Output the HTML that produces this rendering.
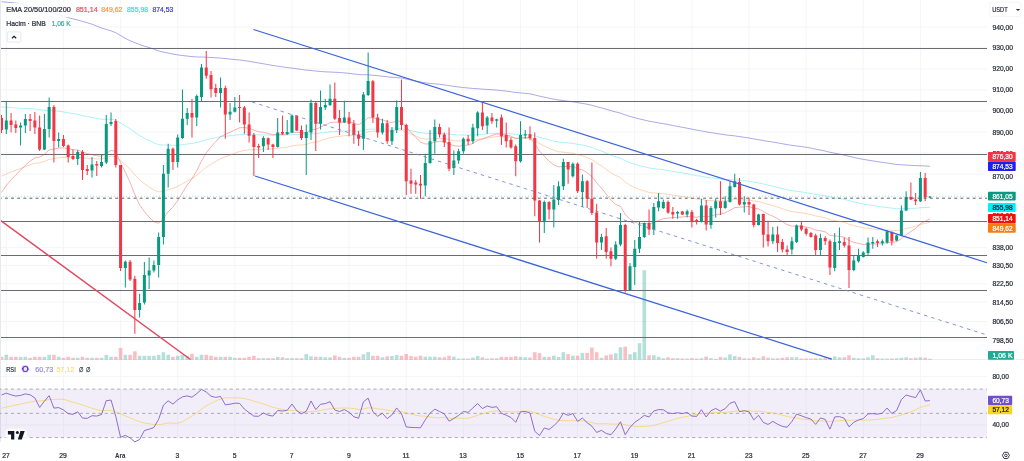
<!DOCTYPE html>
<html><head><meta charset="utf-8"><style>
html,body{margin:0;padding:0;background:#fff;width:1024px;height:461px;overflow:hidden;}
svg{position:absolute;left:0;top:0;filter:blur(0.3px);}
text{font-family:'Liberation Sans', Arial, sans-serif;}
</style></head><body>
<svg width="1024" height="461" viewBox="0 0 1024 461">
<g stroke="#f4f5f7" stroke-width="1">
<line x1="6.3" y1="0" x2="6.3" y2="441"/>
<line x1="63.4" y1="0" x2="63.4" y2="441"/>
<line x1="120.6" y1="0" x2="120.6" y2="441"/>
<line x1="177.7" y1="0" x2="177.7" y2="441"/>
<line x1="234.8" y1="0" x2="234.8" y2="441"/>
<line x1="292.0" y1="0" x2="292.0" y2="441"/>
<line x1="349.1" y1="0" x2="349.1" y2="441"/>
<line x1="406.2" y1="0" x2="406.2" y2="441"/>
<line x1="463.3" y1="0" x2="463.3" y2="441"/>
<line x1="520.5" y1="0" x2="520.5" y2="441"/>
<line x1="577.6" y1="0" x2="577.6" y2="441"/>
<line x1="634.7" y1="0" x2="634.7" y2="441"/>
<line x1="691.9" y1="0" x2="691.9" y2="441"/>
<line x1="749.0" y1="0" x2="749.0" y2="441"/>
<line x1="806.1" y1="0" x2="806.1" y2="441"/>
<line x1="863.2" y1="0" x2="863.2" y2="441"/>
<line x1="920.4" y1="0" x2="920.4" y2="441"/>
<line x1="0" y1="27" x2="987" y2="27"/>
<line x1="0" y1="48" x2="987" y2="48"/>
<line x1="0" y1="69" x2="987" y2="69"/>
<line x1="0" y1="90" x2="987" y2="90"/>
<line x1="0" y1="111" x2="987" y2="111"/>
<line x1="0" y1="132" x2="987" y2="132"/>
<line x1="0" y1="153" x2="987" y2="153"/>
<line x1="0" y1="174" x2="987" y2="174"/>
<line x1="0" y1="247.5" x2="987" y2="247.5"/>
<line x1="0" y1="265.5" x2="987" y2="265.5"/>
<line x1="0" y1="283.75" x2="987" y2="283.75"/>
<line x1="0" y1="302" x2="987" y2="302"/>
<line x1="0" y1="321.5" x2="987" y2="321.5"/>
<line x1="0" y1="340" x2="987" y2="340"/>
<line x1="0" y1="376.5" x2="987" y2="376.5"/>
<line x1="0" y1="425" x2="987" y2="425"/>
</g>
<line x1="0" y1="359.5" x2="1024" y2="359.5" stroke="#eceef2" stroke-width="1"/>
<g>
<rect x="-0.26" y="356.80" width="3.6" height="3.00" fill="rgba(242,54,69,0.32)"/>
<rect x="4.50" y="354.80" width="3.6" height="5.00" fill="rgba(8,153,129,0.3)"/>
<rect x="9.26" y="356.80" width="3.6" height="3.00" fill="rgba(242,54,69,0.32)"/>
<rect x="14.02" y="356.80" width="3.6" height="3.00" fill="rgba(242,54,69,0.32)"/>
<rect x="18.78" y="356.80" width="3.6" height="3.00" fill="rgba(8,153,129,0.3)"/>
<rect x="23.54" y="356.80" width="3.6" height="3.00" fill="rgba(8,153,129,0.3)"/>
<rect x="28.31" y="357.80" width="3.6" height="2.00" fill="rgba(242,54,69,0.32)"/>
<rect x="33.07" y="356.80" width="3.6" height="3.00" fill="rgba(242,54,69,0.32)"/>
<rect x="37.83" y="356.80" width="3.6" height="3.00" fill="rgba(242,54,69,0.32)"/>
<rect x="42.59" y="356.80" width="3.6" height="3.00" fill="rgba(8,153,129,0.3)"/>
<rect x="47.35" y="354.80" width="3.6" height="5.00" fill="rgba(8,153,129,0.3)"/>
<rect x="52.11" y="354.80" width="3.6" height="5.00" fill="rgba(242,54,69,0.32)"/>
<rect x="56.87" y="356.80" width="3.6" height="3.00" fill="rgba(8,153,129,0.3)"/>
<rect x="61.63" y="357.80" width="3.6" height="2.00" fill="rgba(242,54,69,0.32)"/>
<rect x="66.39" y="356.80" width="3.6" height="3.00" fill="rgba(242,54,69,0.32)"/>
<rect x="71.16" y="357.80" width="3.6" height="2.00" fill="rgba(242,54,69,0.32)"/>
<rect x="75.92" y="357.80" width="3.6" height="2.00" fill="rgba(8,153,129,0.3)"/>
<rect x="80.68" y="356.80" width="3.6" height="3.00" fill="rgba(242,54,69,0.32)"/>
<rect x="85.44" y="357.80" width="3.6" height="2.00" fill="rgba(242,54,69,0.32)"/>
<rect x="90.20" y="357.80" width="3.6" height="2.00" fill="rgba(8,153,129,0.3)"/>
<rect x="94.96" y="357.80" width="3.6" height="2.00" fill="rgba(242,54,69,0.32)"/>
<rect x="99.72" y="357.80" width="3.6" height="2.00" fill="rgba(8,153,129,0.3)"/>
<rect x="104.48" y="354.80" width="3.6" height="5.00" fill="rgba(8,153,129,0.3)"/>
<rect x="109.24" y="356.80" width="3.6" height="3.00" fill="rgba(8,153,129,0.3)"/>
<rect x="114.00" y="356.80" width="3.6" height="3.00" fill="rgba(242,54,69,0.32)"/>
<rect x="118.77" y="347.80" width="3.6" height="12.00" fill="rgba(242,54,69,0.32)"/>
<rect x="123.53" y="354.80" width="3.6" height="5.00" fill="rgba(8,153,129,0.3)"/>
<rect x="128.29" y="354.80" width="3.6" height="5.00" fill="rgba(242,54,69,0.32)"/>
<rect x="133.05" y="351.30" width="3.6" height="8.50" fill="rgba(242,54,69,0.32)"/>
<rect x="137.81" y="355.80" width="3.6" height="4.00" fill="rgba(8,153,129,0.3)"/>
<rect x="142.57" y="355.80" width="3.6" height="4.00" fill="rgba(8,153,129,0.3)"/>
<rect x="147.33" y="355.80" width="3.6" height="4.00" fill="rgba(8,153,129,0.3)"/>
<rect x="152.09" y="355.80" width="3.6" height="4.00" fill="rgba(8,153,129,0.3)"/>
<rect x="156.85" y="354.80" width="3.6" height="5.00" fill="rgba(8,153,129,0.3)"/>
<rect x="161.61" y="352.30" width="3.6" height="7.50" fill="rgba(8,153,129,0.3)"/>
<rect x="166.37" y="354.80" width="3.6" height="5.00" fill="rgba(8,153,129,0.3)"/>
<rect x="171.14" y="356.80" width="3.6" height="3.00" fill="rgba(242,54,69,0.32)"/>
<rect x="175.90" y="355.80" width="3.6" height="4.00" fill="rgba(8,153,129,0.3)"/>
<rect x="180.66" y="354.80" width="3.6" height="5.00" fill="rgba(8,153,129,0.3)"/>
<rect x="185.42" y="355.80" width="3.6" height="4.00" fill="rgba(8,153,129,0.3)"/>
<rect x="190.18" y="353.80" width="3.6" height="6.00" fill="rgba(242,54,69,0.32)"/>
<rect x="194.94" y="356.80" width="3.6" height="3.00" fill="rgba(8,153,129,0.3)"/>
<rect x="199.70" y="354.80" width="3.6" height="5.00" fill="rgba(8,153,129,0.3)"/>
<rect x="204.46" y="354.80" width="3.6" height="5.00" fill="rgba(242,54,69,0.32)"/>
<rect x="209.22" y="355.80" width="3.6" height="4.00" fill="rgba(242,54,69,0.32)"/>
<rect x="213.98" y="356.80" width="3.6" height="3.00" fill="rgba(242,54,69,0.32)"/>
<rect x="218.75" y="356.80" width="3.6" height="3.00" fill="rgba(8,153,129,0.3)"/>
<rect x="223.51" y="356.80" width="3.6" height="3.00" fill="rgba(242,54,69,0.32)"/>
<rect x="228.27" y="356.80" width="3.6" height="3.00" fill="rgba(8,153,129,0.3)"/>
<rect x="233.03" y="357.80" width="3.6" height="2.00" fill="rgba(8,153,129,0.3)"/>
<rect x="237.79" y="357.80" width="3.6" height="2.00" fill="rgba(242,54,69,0.32)"/>
<rect x="242.55" y="357.80" width="3.6" height="2.00" fill="rgba(242,54,69,0.32)"/>
<rect x="247.31" y="356.80" width="3.6" height="3.00" fill="rgba(242,54,69,0.32)"/>
<rect x="252.07" y="355.80" width="3.6" height="4.00" fill="rgba(242,54,69,0.32)"/>
<rect x="256.83" y="358.20" width="3.6" height="1.60" fill="rgba(242,54,69,0.32)"/>
<rect x="261.60" y="358.20" width="3.6" height="1.60" fill="rgba(8,153,129,0.3)"/>
<rect x="266.36" y="358.20" width="3.6" height="1.60" fill="rgba(242,54,69,0.32)"/>
<rect x="271.12" y="358.20" width="3.6" height="1.60" fill="rgba(242,54,69,0.32)"/>
<rect x="275.88" y="356.90" width="3.6" height="2.90" fill="rgba(8,153,129,0.3)"/>
<rect x="280.64" y="357.30" width="3.6" height="2.50" fill="rgba(242,54,69,0.32)"/>
<rect x="285.40" y="358.20" width="3.6" height="1.60" fill="rgba(8,153,129,0.3)"/>
<rect x="290.16" y="358.20" width="3.6" height="1.60" fill="rgba(8,153,129,0.3)"/>
<rect x="294.92" y="358.20" width="3.6" height="1.60" fill="rgba(242,54,69,0.32)"/>
<rect x="299.68" y="358.20" width="3.6" height="1.60" fill="rgba(242,54,69,0.32)"/>
<rect x="304.44" y="354.05" width="3.6" height="5.75" fill="rgba(8,153,129,0.3)"/>
<rect x="309.21" y="356.40" width="3.6" height="3.40" fill="rgba(8,153,129,0.3)"/>
<rect x="313.97" y="356.80" width="3.6" height="3.00" fill="rgba(242,54,69,0.32)"/>
<rect x="318.73" y="356.80" width="3.6" height="3.00" fill="rgba(8,153,129,0.3)"/>
<rect x="323.49" y="357.30" width="3.6" height="2.50" fill="rgba(8,153,129,0.3)"/>
<rect x="328.25" y="357.30" width="3.6" height="2.50" fill="rgba(8,153,129,0.3)"/>
<rect x="333.01" y="355.40" width="3.6" height="4.40" fill="rgba(242,54,69,0.32)"/>
<rect x="337.77" y="356.80" width="3.6" height="3.00" fill="rgba(242,54,69,0.32)"/>
<rect x="342.53" y="357.80" width="3.6" height="2.00" fill="rgba(8,153,129,0.3)"/>
<rect x="347.29" y="357.80" width="3.6" height="2.00" fill="rgba(242,54,69,0.32)"/>
<rect x="352.05" y="356.80" width="3.6" height="3.00" fill="rgba(242,54,69,0.32)"/>
<rect x="356.81" y="356.80" width="3.6" height="3.00" fill="rgba(242,54,69,0.32)"/>
<rect x="361.58" y="354.30" width="3.6" height="5.50" fill="rgba(8,153,129,0.3)"/>
<rect x="366.34" y="352.10" width="3.6" height="7.70" fill="rgba(8,153,129,0.3)"/>
<rect x="371.10" y="355.80" width="3.6" height="4.00" fill="rgba(242,54,69,0.32)"/>
<rect x="375.86" y="355.80" width="3.6" height="4.00" fill="rgba(242,54,69,0.32)"/>
<rect x="380.62" y="357.30" width="3.6" height="2.50" fill="rgba(8,153,129,0.3)"/>
<rect x="385.38" y="356.30" width="3.6" height="3.50" fill="rgba(242,54,69,0.32)"/>
<rect x="390.14" y="356.05" width="3.6" height="3.75" fill="rgba(8,153,129,0.3)"/>
<rect x="394.90" y="355.05" width="3.6" height="4.75" fill="rgba(8,153,129,0.3)"/>
<rect x="399.66" y="355.70" width="3.6" height="4.10" fill="rgba(242,54,69,0.32)"/>
<rect x="404.43" y="354.05" width="3.6" height="5.75" fill="rgba(242,54,69,0.32)"/>
<rect x="409.19" y="356.05" width="3.6" height="3.75" fill="rgba(242,54,69,0.32)"/>
<rect x="413.95" y="356.70" width="3.6" height="3.10" fill="rgba(242,54,69,0.32)"/>
<rect x="418.71" y="355.70" width="3.6" height="4.10" fill="rgba(242,54,69,0.32)"/>
<rect x="423.47" y="356.70" width="3.6" height="3.10" fill="rgba(8,153,129,0.3)"/>
<rect x="428.23" y="356.70" width="3.6" height="3.10" fill="rgba(8,153,129,0.3)"/>
<rect x="432.99" y="356.70" width="3.6" height="3.10" fill="rgba(8,153,129,0.3)"/>
<rect x="437.75" y="357.30" width="3.6" height="2.50" fill="rgba(242,54,69,0.32)"/>
<rect x="442.51" y="357.30" width="3.6" height="2.50" fill="rgba(242,54,69,0.32)"/>
<rect x="447.27" y="355.70" width="3.6" height="4.10" fill="rgba(242,54,69,0.32)"/>
<rect x="452.04" y="356.70" width="3.6" height="3.10" fill="rgba(8,153,129,0.3)"/>
<rect x="456.80" y="358.55" width="3.6" height="1.25" fill="rgba(8,153,129,0.3)"/>
<rect x="461.56" y="358.55" width="3.6" height="1.25" fill="rgba(8,153,129,0.3)"/>
<rect x="466.32" y="358.55" width="3.6" height="1.25" fill="rgba(242,54,69,0.32)"/>
<rect x="471.08" y="357.55" width="3.6" height="2.25" fill="rgba(8,153,129,0.3)"/>
<rect x="475.84" y="356.05" width="3.6" height="3.75" fill="rgba(8,153,129,0.3)"/>
<rect x="480.60" y="357.30" width="3.6" height="2.50" fill="rgba(242,54,69,0.32)"/>
<rect x="485.36" y="358.55" width="3.6" height="1.25" fill="rgba(8,153,129,0.3)"/>
<rect x="490.12" y="358.20" width="3.6" height="1.60" fill="rgba(242,54,69,0.32)"/>
<rect x="494.88" y="358.20" width="3.6" height="1.60" fill="rgba(8,153,129,0.3)"/>
<rect x="499.65" y="356.90" width="3.6" height="2.90" fill="rgba(242,54,69,0.32)"/>
<rect x="504.41" y="356.90" width="3.6" height="2.90" fill="rgba(242,54,69,0.32)"/>
<rect x="509.17" y="356.90" width="3.6" height="2.90" fill="rgba(242,54,69,0.32)"/>
<rect x="513.93" y="356.30" width="3.6" height="3.50" fill="rgba(242,54,69,0.32)"/>
<rect x="518.69" y="356.90" width="3.6" height="2.90" fill="rgba(8,153,129,0.3)"/>
<rect x="523.45" y="357.30" width="3.6" height="2.50" fill="rgba(8,153,129,0.3)"/>
<rect x="528.21" y="357.55" width="3.6" height="2.25" fill="rgba(242,54,69,0.32)"/>
<rect x="532.97" y="352.20" width="3.6" height="7.60" fill="rgba(242,54,69,0.32)"/>
<rect x="537.73" y="353.20" width="3.6" height="6.60" fill="rgba(242,54,69,0.32)"/>
<rect x="542.49" y="356.90" width="3.6" height="2.90" fill="rgba(8,153,129,0.3)"/>
<rect x="547.25" y="356.90" width="3.6" height="2.90" fill="rgba(242,54,69,0.32)"/>
<rect x="552.02" y="355.70" width="3.6" height="4.10" fill="rgba(8,153,129,0.3)"/>
<rect x="556.78" y="356.90" width="3.6" height="2.90" fill="rgba(8,153,129,0.3)"/>
<rect x="561.54" y="352.20" width="3.6" height="7.60" fill="rgba(8,153,129,0.3)"/>
<rect x="566.30" y="354.05" width="3.6" height="5.75" fill="rgba(242,54,69,0.32)"/>
<rect x="571.06" y="355.70" width="3.6" height="4.10" fill="rgba(8,153,129,0.3)"/>
<rect x="575.82" y="355.70" width="3.6" height="4.10" fill="rgba(242,54,69,0.32)"/>
<rect x="580.58" y="352.90" width="3.6" height="6.90" fill="rgba(8,153,129,0.3)"/>
<rect x="585.34" y="352.90" width="3.6" height="6.90" fill="rgba(242,54,69,0.32)"/>
<rect x="590.10" y="347.55" width="3.6" height="12.25" fill="rgba(242,54,69,0.32)"/>
<rect x="594.87" y="352.20" width="3.6" height="7.60" fill="rgba(242,54,69,0.32)"/>
<rect x="599.63" y="357.80" width="3.6" height="2.00" fill="rgba(8,153,129,0.3)"/>
<rect x="604.39" y="355.40" width="3.6" height="4.40" fill="rgba(242,54,69,0.32)"/>
<rect x="609.15" y="354.40" width="3.6" height="5.40" fill="rgba(242,54,69,0.32)"/>
<rect x="613.91" y="353.20" width="3.6" height="6.60" fill="rgba(8,153,129,0.3)"/>
<rect x="618.67" y="347.30" width="3.6" height="12.50" fill="rgba(8,153,129,0.3)"/>
<rect x="623.43" y="346.70" width="3.6" height="13.10" fill="rgba(242,54,69,0.32)"/>
<rect x="628.19" y="354.20" width="3.6" height="5.60" fill="rgba(8,153,129,0.3)"/>
<rect x="632.95" y="352.20" width="3.6" height="7.60" fill="rgba(8,153,129,0.3)"/>
<rect x="637.71" y="343.20" width="3.6" height="16.60" fill="rgba(8,153,129,0.3)"/>
<rect x="642.48" y="270.30" width="3.6" height="89.50" fill="rgba(8,153,129,0.3)"/>
<rect x="647.24" y="355.30" width="3.6" height="4.50" fill="rgba(242,54,69,0.32)"/>
<rect x="652.00" y="355.30" width="3.6" height="4.50" fill="rgba(8,153,129,0.3)"/>
<rect x="656.76" y="356.90" width="3.6" height="2.90" fill="rgba(8,153,129,0.3)"/>
<rect x="661.52" y="358.20" width="3.6" height="1.60" fill="rgba(8,153,129,0.3)"/>
<rect x="666.28" y="357.30" width="3.6" height="2.50" fill="rgba(242,54,69,0.32)"/>
<rect x="671.04" y="358.20" width="3.6" height="1.60" fill="rgba(242,54,69,0.32)"/>
<rect x="675.80" y="358.20" width="3.6" height="1.60" fill="rgba(8,153,129,0.3)"/>
<rect x="680.56" y="358.55" width="3.6" height="1.25" fill="rgba(242,54,69,0.32)"/>
<rect x="685.32" y="358.55" width="3.6" height="1.25" fill="rgba(8,153,129,0.3)"/>
<rect x="690.09" y="358.20" width="3.6" height="1.60" fill="rgba(242,54,69,0.32)"/>
<rect x="694.85" y="358.55" width="3.6" height="1.25" fill="rgba(242,54,69,0.32)"/>
<rect x="699.61" y="358.20" width="3.6" height="1.60" fill="rgba(8,153,129,0.3)"/>
<rect x="704.37" y="356.70" width="3.6" height="3.10" fill="rgba(242,54,69,0.32)"/>
<rect x="709.13" y="358.20" width="3.6" height="1.60" fill="rgba(8,153,129,0.3)"/>
<rect x="713.89" y="358.80" width="3.6" height="1.00" fill="rgba(8,153,129,0.3)"/>
<rect x="718.65" y="356.90" width="3.6" height="2.90" fill="rgba(242,54,69,0.32)"/>
<rect x="723.41" y="357.55" width="3.6" height="2.25" fill="rgba(8,153,129,0.3)"/>
<rect x="728.17" y="354.40" width="3.6" height="5.40" fill="rgba(8,153,129,0.3)"/>
<rect x="732.93" y="356.05" width="3.6" height="3.75" fill="rgba(8,153,129,0.3)"/>
<rect x="737.70" y="356.90" width="3.6" height="2.90" fill="rgba(242,54,69,0.32)"/>
<rect x="742.46" y="358.20" width="3.6" height="1.60" fill="rgba(8,153,129,0.3)"/>
<rect x="747.22" y="358.55" width="3.6" height="1.25" fill="rgba(242,54,69,0.32)"/>
<rect x="751.98" y="357.30" width="3.6" height="2.50" fill="rgba(242,54,69,0.32)"/>
<rect x="756.74" y="358.20" width="3.6" height="1.60" fill="rgba(8,153,129,0.3)"/>
<rect x="761.50" y="356.30" width="3.6" height="3.50" fill="rgba(242,54,69,0.32)"/>
<rect x="766.26" y="357.80" width="3.6" height="2.00" fill="rgba(242,54,69,0.32)"/>
<rect x="771.02" y="358.30" width="3.6" height="1.50" fill="rgba(8,153,129,0.3)"/>
<rect x="775.78" y="358.30" width="3.6" height="1.50" fill="rgba(242,54,69,0.32)"/>
<rect x="780.54" y="357.80" width="3.6" height="2.00" fill="rgba(242,54,69,0.32)"/>
<rect x="785.31" y="357.30" width="3.6" height="2.50" fill="rgba(242,54,69,0.32)"/>
<rect x="790.07" y="357.30" width="3.6" height="2.50" fill="rgba(8,153,129,0.3)"/>
<rect x="794.83" y="357.30" width="3.6" height="2.50" fill="rgba(8,153,129,0.3)"/>
<rect x="799.59" y="358.55" width="3.6" height="1.25" fill="rgba(242,54,69,0.32)"/>
<rect x="804.35" y="358.55" width="3.6" height="1.25" fill="rgba(242,54,69,0.32)"/>
<rect x="809.11" y="358.55" width="3.6" height="1.25" fill="rgba(242,54,69,0.32)"/>
<rect x="813.87" y="358.30" width="3.6" height="1.50" fill="rgba(242,54,69,0.32)"/>
<rect x="818.63" y="358.30" width="3.6" height="1.50" fill="rgba(8,153,129,0.3)"/>
<rect x="823.39" y="357.80" width="3.6" height="2.00" fill="rgba(242,54,69,0.32)"/>
<rect x="828.15" y="357.80" width="3.6" height="2.00" fill="rgba(242,54,69,0.32)"/>
<rect x="832.92" y="356.30" width="3.6" height="3.50" fill="rgba(8,153,129,0.3)"/>
<rect x="837.68" y="357.30" width="3.6" height="2.50" fill="rgba(8,153,129,0.3)"/>
<rect x="842.44" y="357.30" width="3.6" height="2.50" fill="rgba(242,54,69,0.32)"/>
<rect x="847.20" y="355.30" width="3.6" height="4.50" fill="rgba(242,54,69,0.32)"/>
<rect x="851.96" y="357.80" width="3.6" height="2.00" fill="rgba(8,153,129,0.3)"/>
<rect x="856.72" y="358.30" width="3.6" height="1.50" fill="rgba(8,153,129,0.3)"/>
<rect x="861.48" y="358.30" width="3.6" height="1.50" fill="rgba(8,153,129,0.3)"/>
<rect x="866.24" y="357.30" width="3.6" height="2.50" fill="rgba(8,153,129,0.3)"/>
<rect x="871.00" y="355.30" width="3.6" height="4.50" fill="rgba(8,153,129,0.3)"/>
<rect x="875.76" y="358.30" width="3.6" height="1.50" fill="rgba(242,54,69,0.32)"/>
<rect x="880.52" y="358.55" width="3.6" height="1.25" fill="rgba(8,153,129,0.3)"/>
<rect x="885.29" y="358.55" width="3.6" height="1.25" fill="rgba(8,153,129,0.3)"/>
<rect x="890.05" y="358.55" width="3.6" height="1.25" fill="rgba(242,54,69,0.32)"/>
<rect x="894.81" y="358.30" width="3.6" height="1.50" fill="rgba(8,153,129,0.3)"/>
<rect x="899.57" y="357.80" width="3.6" height="2.00" fill="rgba(8,153,129,0.3)"/>
<rect x="904.33" y="357.30" width="3.6" height="2.50" fill="rgba(8,153,129,0.3)"/>
<rect x="909.09" y="358.30" width="3.6" height="1.50" fill="rgba(242,54,69,0.32)"/>
<rect x="913.85" y="357.80" width="3.6" height="2.00" fill="rgba(242,54,69,0.32)"/>
<rect x="918.61" y="357.30" width="3.6" height="2.50" fill="rgba(8,153,129,0.3)"/>
<rect x="923.37" y="357.80" width="3.6" height="2.00" fill="rgba(242,54,69,0.32)"/>
<rect x="928.13" y="358.80" width="3.6" height="1.00" fill="rgba(8,153,129,0.3)"/>
</g>
<g stroke="#6a6c72" stroke-width="1">
<line x1="0" y1="48.5" x2="987" y2="48.5"/>
<line x1="0" y1="101.5" x2="987" y2="101.5"/>
<line x1="0" y1="154.5" x2="987" y2="154.5"/>
<line x1="0" y1="221.5" x2="987" y2="221.5"/>
<line x1="0" y1="255.5" x2="987" y2="255.5"/>
<line x1="0" y1="290.5" x2="987" y2="290.5"/>
<line x1="0" y1="337.5" x2="987" y2="337.5"/>
</g>
<polyline points="1.54,1.76 6.30,2.18 11.06,2.64 15.82,3.12 20.58,3.67 25.34,4.98 30.11,6.29 34.87,7.66 39.63,9.24 44.39,10.59 49.15,11.72 53.91,13.18 58.67,14.60 63.43,16.09 68.19,17.65 72.96,18.89 77.72,20.04 82.48,21.37 87.24,22.68 92.00,24.20 96.76,26.10 101.52,27.96 106.28,29.42 111.04,30.86 115.80,32.71 120.57,35.57 125.33,38.35 130.09,40.74 134.85,42.69 139.61,44.56 144.37,46.11 149.13,47.60 153.89,49.15 158.65,50.98 163.41,52.16 168.17,53.08 172.94,54.12 177.70,54.91 182.46,55.51 187.22,56.04 191.98,56.61 196.74,56.96 201.50,57.02 206.26,57.18 211.02,57.47 215.78,57.79 220.55,58.06 225.31,58.59 230.07,59.09 234.83,59.54 239.59,59.99 244.35,60.60 249.11,61.31 253.87,62.13 258.63,62.99 263.40,63.77 268.16,64.61 272.92,65.46 277.68,66.16 282.44,66.87 287.20,67.55 291.96,68.07 296.72,68.73 301.48,69.45 306.24,70.12 311.01,70.48 315.77,71.05 320.53,71.45 325.29,71.82 330.05,72.01 334.81,72.23 339.57,72.48 344.33,72.89 349.09,73.37 353.85,73.96 358.62,74.58 363.38,74.75 368.14,74.79 372.90,75.19 377.66,75.74 382.42,76.19 387.18,76.81 391.94,77.31 396.70,77.59 401.46,78.03 406.23,79.04 410.99,80.05 415.75,81.07 420.51,82.08 425.27,82.86 430.03,83.42 434.79,83.83 439.55,84.31 444.31,84.86 449.07,85.67 453.84,86.39 458.60,87.01 463.36,87.50 468.12,88.01 472.88,88.44 477.64,88.71 482.40,89.11 487.16,89.43 491.92,89.78 496.68,90.10 501.45,90.59 506.21,91.13 510.97,91.73 515.73,92.45 520.49,92.91 525.25,93.36 530.01,93.84 534.77,94.94 539.53,96.16 544.29,97.17 549.05,98.24 553.82,99.20 558.58,100.02 563.34,100.59 568.10,101.23 572.86,101.81 577.62,102.65 582.38,103.38 587.14,104.28 591.90,105.32 596.66,106.63 601.43,107.88 606.19,109.26 610.95,110.70 615.71,111.98 620.47,113.10 625.23,114.88 629.99,116.42 634.75,117.76 639.51,118.98 644.27,120.04 649.04,121.16 653.80,122.04 658.56,122.86 663.32,123.68 668.08,124.59 672.84,125.52 677.60,126.41 682.36,127.32 687.12,128.19 691.88,129.14 696.65,130.10 701.41,130.89 706.17,131.85 710.93,132.64 715.69,133.36 720.45,134.14 725.21,134.84 729.97,135.39 734.73,135.89 739.50,136.61 744.26,137.29 749.02,138.00 753.78,138.91 758.54,139.70 763.30,140.52 768.06,141.33 772.82,142.06 777.58,142.87 782.34,143.73 787.11,144.60 791.87,145.36 796.63,145.95 801.39,146.58 806.15,147.23 810.91,148.08 815.67,149.15 820.43,150.08 825.19,151.04 829.95,152.26 834.72,153.21 839.48,154.14 844.24,155.11 849.00,156.31 853.76,157.40 858.52,158.44 863.28,159.36 868.04,160.13 872.80,160.90 877.56,161.66 882.32,162.40 887.09,163.03 891.85,163.76 896.61,164.42 901.37,164.82 906.13,165.09 910.89,165.37 915.65,165.68 920.41,165.74 925.17,166.00 929.93,166.25" fill="none" stroke="rgba(75,65,200,0.45)" stroke-width="1"/>
<polyline points="1.54,106.99 6.30,107.24 11.06,107.58 15.82,107.96 20.58,108.29 25.34,108.48 30.11,108.71 34.87,109.06 39.63,109.84 44.39,110.20 49.15,110.12 53.91,110.70 58.67,111.24 63.43,111.91 68.19,112.78 72.96,113.67 77.72,114.40 82.48,115.48 87.24,116.55 92.00,117.47 96.76,118.40 101.52,119.23 106.28,119.30 111.04,119.32 115.80,120.20 120.57,123.09 125.33,125.81 130.09,128.78 134.85,132.23 139.61,135.47 144.37,138.10 149.13,140.58 153.89,142.89 158.65,144.61 163.41,145.05 168.17,145.10 172.94,145.41 177.70,145.23 182.46,144.68 187.22,144.03 191.98,143.48 196.74,142.52 201.50,141.01 206.26,139.69 211.02,138.67 215.78,137.74 220.55,136.73 225.31,136.27 230.07,135.76 234.83,135.18 239.59,134.62 244.35,134.39 249.11,134.40 253.87,134.62 258.63,134.85 263.40,134.89 268.16,135.06 272.92,135.27 277.68,135.19 282.44,135.14 287.20,135.06 291.96,134.64 296.72,134.54 301.48,134.58 306.24,134.51 311.01,133.86 315.77,133.64 320.53,133.09 325.29,132.51 330.05,131.81 334.81,131.53 339.57,131.33 344.33,131.03 349.09,130.86 353.85,130.92 358.62,131.05 363.38,130.31 368.14,129.31 372.90,129.05 377.66,129.09 382.42,128.95 387.18,129.17 391.94,129.17 396.70,128.70 401.46,128.61 406.23,129.62 410.99,130.67 415.75,131.71 420.51,132.76 425.27,133.33 430.03,133.46 434.79,133.31 439.55,133.31 444.31,133.47 449.07,134.14 453.84,134.64 458.60,134.95 463.36,135.00 468.12,135.10 472.88,134.92 477.64,134.46 482.40,134.27 487.16,133.91 491.92,133.64 496.68,133.34 501.45,133.39 506.21,133.53 510.97,133.80 515.73,134.33 520.49,134.33 525.25,134.31 530.01,134.37 534.77,135.67 539.53,137.37 544.29,138.64 549.05,140.03 553.82,141.20 558.58,142.08 563.34,142.46 568.10,142.99 572.86,143.39 577.62,144.33 582.38,145.05 587.14,146.10 591.90,147.42 596.66,149.29 601.43,151.02 606.19,153.01 610.95,155.09 615.71,156.85 620.47,158.17 625.23,160.71 629.99,162.73 634.75,164.37 639.51,165.74 644.27,166.80 649.04,167.97 653.80,168.68 658.56,169.25 663.32,169.82 668.08,170.59 672.84,171.39 677.60,172.12 682.36,172.93 687.12,173.72 691.88,174.69 696.65,175.66 701.41,176.28 706.17,177.27 710.93,177.92 715.69,178.42 720.45,179.04 725.21,179.52 729.97,179.69 734.73,179.76 739.50,180.30 744.26,180.77 749.02,181.28 753.78,182.20 758.54,182.88 763.30,183.96 768.06,185.14 772.82,186.17 777.58,187.35 782.34,188.57 787.11,189.74 791.87,190.68 796.63,191.28 801.39,191.95 806.15,192.69 810.91,193.43 815.67,194.38 820.43,195.07 825.19,195.81 829.95,197.05 834.72,197.75 839.48,198.43 844.24,199.25 849.00,200.66 853.76,201.86 858.52,202.94 863.28,203.94 868.04,204.72 872.80,205.48 877.56,206.24 882.32,206.96 887.09,207.46 891.85,208.16 896.61,208.72 901.37,208.78 906.13,208.56 910.89,208.39 915.65,208.27 920.41,207.68 925.17,207.50 929.93,207.30" fill="none" stroke="rgba(0,215,235,0.33)" stroke-width="1"/>
<polyline points="1.54,176.12 6.30,173.94 11.06,172.02 15.82,170.29 20.58,168.53 25.34,166.59 30.11,164.80 34.87,163.34 39.63,162.80 44.39,161.47 49.15,159.34 53.91,158.62 58.67,157.85 63.43,157.38 68.19,157.37 72.96,157.43 77.72,157.22 82.48,157.72 87.24,158.24 92.00,158.49 96.76,158.76 101.52,158.89 106.28,157.52 111.04,156.13 115.80,156.48 120.57,160.85 125.33,164.81 130.09,169.30 134.85,174.82 139.61,179.85 144.37,183.58 149.13,186.99 153.89,190.05 158.65,191.89 163.41,191.18 168.17,189.51 172.94,188.43 177.70,186.44 182.46,183.78 187.22,181.01 191.98,178.52 196.74,175.28 201.50,171.05 206.26,167.32 211.02,164.26 215.78,161.46 220.55,158.58 225.31,156.85 230.07,155.08 234.83,153.22 239.59,151.44 244.35,150.39 249.11,149.81 253.87,149.70 258.63,149.62 263.40,149.16 268.16,148.98 272.92,148.90 277.68,148.26 282.44,147.69 287.20,147.07 291.96,145.83 296.72,145.23 301.48,144.95 306.24,144.44 311.01,142.82 315.77,142.07 320.53,140.69 325.29,139.29 330.05,137.70 334.81,136.96 339.57,136.39 344.33,135.65 349.09,135.19 353.85,135.18 358.62,135.32 363.38,133.72 368.14,131.65 372.90,131.10 377.66,131.15 382.42,130.84 387.18,131.25 391.94,131.20 396.70,130.25 401.46,130.05 406.23,132.05 410.99,134.08 415.75,136.06 420.51,138.00 425.27,138.98 430.03,139.07 434.79,138.59 439.55,138.43 444.31,138.59 449.07,139.77 453.84,140.59 458.60,141.01 463.36,140.92 468.12,140.93 472.88,140.40 477.64,139.31 482.40,138.80 487.16,137.96 491.92,137.31 496.68,136.60 501.45,136.58 506.21,136.77 510.97,137.19 515.73,138.13 520.49,138.01 525.25,137.86 530.01,137.87 534.77,140.32 539.53,143.53 544.29,145.82 549.05,148.32 553.82,150.32 558.58,151.73 563.34,152.14 568.10,152.82 572.86,153.25 577.62,154.74 582.38,155.78 587.14,157.46 591.90,159.64 596.66,162.89 601.43,165.79 606.19,169.18 610.95,172.69 615.71,175.50 620.47,177.45 625.23,181.86 629.99,185.17 634.75,187.66 639.51,189.60 644.27,190.91 649.04,192.42 653.80,192.99 658.56,193.32 663.32,193.66 668.08,194.40 672.84,195.18 677.60,195.84 682.36,196.57 687.12,197.15 691.88,198.10 696.65,199.03 701.41,199.29 706.17,200.28 710.93,200.58 715.69,200.60 720.45,200.89 725.21,200.91 729.97,200.33 734.73,199.59 739.50,199.78 744.26,199.87 749.02,200.05 753.78,201.03 758.54,201.55 763.30,202.86 768.06,204.36 772.82,205.54 777.58,207.01 782.34,208.68 787.11,210.38 791.87,211.59 796.63,212.13 801.39,212.81 806.15,213.64 810.91,214.55 815.67,215.94 820.43,216.81 825.19,217.77 829.95,219.72 834.72,220.59 839.48,221.40 844.24,222.35 849.00,224.21 853.76,225.64 858.52,226.81 863.28,227.82 868.04,228.39 872.80,228.93 877.56,229.48 882.32,229.94 887.09,229.99 891.85,230.43 896.61,230.63 901.37,229.84 906.13,228.55 910.89,227.41 915.65,226.39 920.41,224.49 925.17,223.43 929.93,222.38" fill="none" stroke="rgba(250,135,50,0.35)" stroke-width="1"/>
<polyline points="1.54,192.43 6.30,185.58 11.06,179.81 15.82,174.87 20.58,170.17 25.34,165.30 30.11,161.08 34.87,157.88 39.63,157.08 44.39,154.41 49.15,149.89 53.91,149.05 58.67,148.09 63.43,147.89 68.19,148.76 72.96,149.73 77.72,149.95 82.48,151.86 87.24,153.68 92.00,154.71 96.76,155.74 101.52,156.34 106.28,153.26 111.04,150.28 115.80,151.68 120.57,162.76 125.33,172.19 130.09,182.41 134.85,194.56 139.61,204.89 144.37,211.56 149.13,217.18 153.89,221.73 158.65,223.19 163.41,218.48 168.17,211.84 172.94,207.09 177.70,200.46 182.46,192.68 187.22,185.09 191.98,178.65 196.74,170.78 201.50,160.95 206.26,152.83 211.02,146.78 215.78,141.66 220.55,136.55 225.31,134.45 230.07,132.28 234.83,129.92 239.59,127.84 244.35,127.52 249.11,128.30 253.87,130.08 258.63,131.74 263.40,132.34 268.16,133.50 272.92,134.78 277.68,134.56 282.44,134.49 287.20,134.25 291.96,132.46 296.72,132.28 301.48,132.82 306.24,132.74 311.01,129.91 315.77,129.32 320.53,127.20 325.29,125.08 330.05,122.58 334.81,122.21 339.57,122.24 344.33,121.79 349.09,121.97 353.85,123.22 358.62,124.69 363.38,121.82 368.14,117.93 372.90,117.89 377.66,119.28 382.42,119.66 387.18,121.72 391.94,122.50 396.70,121.03 401.46,121.41 406.23,127.11 410.99,132.50 415.75,137.45 420.51,142.03 425.27,144.03 430.03,143.76 434.79,142.17 439.55,141.44 444.31,141.54 449.07,144.13 453.84,145.69 458.60,146.22 463.36,145.51 468.12,145.10 472.88,143.42 477.64,140.48 482.40,139.12 487.16,137.06 491.92,135.56 496.68,134.01 501.45,134.22 506.21,134.89 510.97,136.09 515.73,138.49 520.49,138.15 525.25,137.78 530.01,137.80 534.77,143.77 539.53,151.22 544.29,156.06 549.05,161.15 553.82,164.80 558.58,166.84 563.34,166.38 568.10,166.68 572.86,166.40 577.62,168.77 582.38,169.96 587.14,172.70 591.90,176.54 596.66,182.82 601.43,187.98 606.19,194.08 610.95,200.24 615.71,204.45 620.47,206.41 625.23,214.37 629.99,219.31 634.75,222.11 639.51,223.53 644.27,223.48 649.04,224.05 653.80,222.43 658.56,220.41 663.32,218.66 668.08,218.07 672.84,217.73 677.60,217.19 682.36,216.93 687.12,216.39 691.88,216.85 696.65,217.34 701.41,216.21 706.17,217.00 710.93,216.15 715.69,214.73 720.45,214.09 725.21,212.86 729.97,210.33 734.73,207.56 739.50,207.27 744.26,206.77 749.02,206.55 753.78,208.31 758.54,208.90 763.30,211.36 768.06,214.21 772.82,216.14 777.58,218.70 782.34,221.63 787.11,224.52 791.87,226.12 796.63,226.06 801.39,226.39 806.15,227.09 810.91,228.03 815.67,230.12 820.43,230.87 825.19,231.86 829.95,235.26 834.72,235.90 839.48,236.41 844.24,237.27 849.00,240.39 853.76,242.31 858.52,243.56 863.28,244.41 868.04,244.23 872.80,244.02 877.56,243.92 882.32,243.67 887.09,242.48 891.85,242.37 896.61,241.71 901.37,238.74 906.13,234.77 910.89,231.41 915.65,228.53 920.41,223.72 925.17,221.22 929.93,218.87" fill="none" stroke="rgba(235,60,60,0.4)" stroke-width="1"/>
<g>
<rect x="1.04" y="115.00" width="1" height="18.00" fill="#F23645"/>
<rect x="0.04" y="118.00" width="3" height="12.00" fill="#F23645"/>
<rect x="5.80" y="101.00" width="1" height="33.00" fill="#089981"/>
<rect x="4.80" y="120.50" width="3" height="9.00" fill="#089981"/>
<rect x="10.56" y="113.00" width="1" height="19.50" fill="#F23645"/>
<rect x="9.56" y="120.50" width="3" height="4.50" fill="#F23645"/>
<rect x="15.32" y="120.50" width="1" height="12.50" fill="#F23645"/>
<rect x="14.32" y="124.50" width="3" height="3.50" fill="#F23645"/>
<rect x="20.08" y="122.50" width="1" height="23.00" fill="#089981"/>
<rect x="19.08" y="125.50" width="3" height="2.00" fill="#089981"/>
<rect x="24.84" y="114.00" width="1" height="19.00" fill="#089981"/>
<rect x="23.84" y="119.00" width="3" height="6.50" fill="#089981"/>
<rect x="29.61" y="114.00" width="1" height="17.00" fill="#F23645"/>
<rect x="28.61" y="119.00" width="3" height="2.00" fill="#F23645"/>
<rect x="34.37" y="112.00" width="1" height="22.00" fill="#F23645"/>
<rect x="33.37" y="120.50" width="3" height="7.00" fill="#F23645"/>
<rect x="39.13" y="115.50" width="1" height="35.50" fill="#F23645"/>
<rect x="38.13" y="127.50" width="3" height="22.00" fill="#F23645"/>
<rect x="43.89" y="114.00" width="1" height="36.00" fill="#089981"/>
<rect x="42.89" y="129.00" width="3" height="20.50" fill="#089981"/>
<rect x="48.65" y="97.50" width="1" height="40.00" fill="#089981"/>
<rect x="47.65" y="107.00" width="3" height="22.00" fill="#089981"/>
<rect x="53.41" y="105.00" width="1" height="57.50" fill="#F23645"/>
<rect x="52.41" y="107.00" width="3" height="34.00" fill="#F23645"/>
<rect x="58.17" y="132.50" width="1" height="15.00" fill="#089981"/>
<rect x="57.17" y="139.00" width="3" height="2.00" fill="#089981"/>
<rect x="62.93" y="135.00" width="1" height="12.00" fill="#F23645"/>
<rect x="61.93" y="139.00" width="3" height="7.00" fill="#F23645"/>
<rect x="67.69" y="144.50" width="1" height="18.00" fill="#F23645"/>
<rect x="66.69" y="145.50" width="3" height="11.50" fill="#F23645"/>
<rect x="72.46" y="149.50" width="1" height="10.50" fill="#F23645"/>
<rect x="71.46" y="156.00" width="3" height="3.00" fill="#F23645"/>
<rect x="77.22" y="150.00" width="1" height="15.00" fill="#089981"/>
<rect x="76.22" y="152.00" width="3" height="7.00" fill="#089981"/>
<rect x="81.98" y="150.00" width="1" height="30.00" fill="#F23645"/>
<rect x="80.98" y="152.00" width="3" height="18.00" fill="#F23645"/>
<rect x="86.74" y="165.00" width="1" height="10.00" fill="#F23645"/>
<rect x="85.74" y="169.00" width="3" height="2.00" fill="#F23645"/>
<rect x="91.50" y="157.00" width="1" height="20.50" fill="#089981"/>
<rect x="90.50" y="164.50" width="3" height="6.00" fill="#089981"/>
<rect x="96.26" y="161.00" width="1" height="15.00" fill="#F23645"/>
<rect x="95.26" y="164.00" width="3" height="1.50" fill="#F23645"/>
<rect x="101.02" y="155.00" width="1" height="12.50" fill="#089981"/>
<rect x="100.02" y="162.00" width="3" height="4.00" fill="#089981"/>
<rect x="105.78" y="115.00" width="1" height="49.00" fill="#089981"/>
<rect x="104.78" y="124.00" width="3" height="38.50" fill="#089981"/>
<rect x="110.54" y="112.50" width="1" height="13.50" fill="#089981"/>
<rect x="109.54" y="122.00" width="3" height="2.00" fill="#089981"/>
<rect x="115.30" y="119.00" width="1" height="48.50" fill="#F23645"/>
<rect x="114.30" y="121.00" width="3" height="44.00" fill="#F23645"/>
<rect x="120.07" y="165.00" width="1" height="106.00" fill="#F23645"/>
<rect x="119.07" y="165.00" width="3" height="103.00" fill="#F23645"/>
<rect x="124.83" y="260.50" width="1" height="27.00" fill="#089981"/>
<rect x="123.83" y="261.75" width="3" height="6.25" fill="#089981"/>
<rect x="129.59" y="260.00" width="1" height="21.00" fill="#F23645"/>
<rect x="128.59" y="261.75" width="3" height="17.75" fill="#F23645"/>
<rect x="134.35" y="275.75" width="1" height="58.00" fill="#F23645"/>
<rect x="133.35" y="278.75" width="3" height="31.25" fill="#F23645"/>
<rect x="139.11" y="293.75" width="1" height="23.75" fill="#089981"/>
<rect x="138.11" y="303.00" width="3" height="7.00" fill="#089981"/>
<rect x="143.87" y="262.00" width="1" height="42.50" fill="#089981"/>
<rect x="142.87" y="275.00" width="3" height="27.50" fill="#089981"/>
<rect x="148.63" y="257.50" width="1" height="31.50" fill="#089981"/>
<rect x="147.63" y="270.50" width="3" height="5.00" fill="#089981"/>
<rect x="153.39" y="260.50" width="1" height="12.00" fill="#089981"/>
<rect x="152.39" y="265.00" width="3" height="5.50" fill="#089981"/>
<rect x="158.15" y="232.50" width="1" height="45.00" fill="#089981"/>
<rect x="157.15" y="237.00" width="3" height="28.00" fill="#089981"/>
<rect x="162.91" y="165.00" width="1" height="79.50" fill="#089981"/>
<rect x="161.91" y="173.75" width="3" height="63.25" fill="#089981"/>
<rect x="167.67" y="143.75" width="1" height="43.75" fill="#089981"/>
<rect x="166.67" y="148.75" width="3" height="25.00" fill="#089981"/>
<rect x="172.44" y="147.50" width="1" height="22.50" fill="#F23645"/>
<rect x="171.44" y="148.75" width="3" height="13.25" fill="#F23645"/>
<rect x="177.20" y="134.50" width="1" height="33.00" fill="#089981"/>
<rect x="176.20" y="137.50" width="3" height="24.50" fill="#089981"/>
<rect x="181.96" y="89.50" width="1" height="49.25" fill="#089981"/>
<rect x="180.96" y="118.75" width="3" height="19.25" fill="#089981"/>
<rect x="186.72" y="108.00" width="1" height="17.00" fill="#089981"/>
<rect x="185.72" y="113.00" width="3" height="5.75" fill="#089981"/>
<rect x="191.48" y="98.75" width="1" height="38.75" fill="#F23645"/>
<rect x="190.48" y="113.00" width="3" height="4.50" fill="#F23645"/>
<rect x="196.24" y="94.50" width="1" height="31.50" fill="#089981"/>
<rect x="195.24" y="96.00" width="3" height="21.50" fill="#089981"/>
<rect x="201.00" y="64.00" width="1" height="37.00" fill="#089981"/>
<rect x="200.00" y="67.50" width="3" height="29.50" fill="#089981"/>
<rect x="205.76" y="51.00" width="1" height="27.75" fill="#F23645"/>
<rect x="204.76" y="67.50" width="3" height="8.25" fill="#F23645"/>
<rect x="210.52" y="71.00" width="1" height="26.50" fill="#F23645"/>
<rect x="209.52" y="75.00" width="3" height="14.25" fill="#F23645"/>
<rect x="215.28" y="83.75" width="1" height="13.25" fill="#F23645"/>
<rect x="214.28" y="88.00" width="3" height="5.00" fill="#F23645"/>
<rect x="220.05" y="77.50" width="1" height="30.00" fill="#089981"/>
<rect x="219.05" y="88.00" width="3" height="5.00" fill="#089981"/>
<rect x="224.81" y="85.75" width="1" height="53.00" fill="#F23645"/>
<rect x="223.81" y="88.00" width="3" height="26.50" fill="#F23645"/>
<rect x="229.57" y="103.00" width="1" height="17.00" fill="#089981"/>
<rect x="228.57" y="111.75" width="3" height="2.75" fill="#089981"/>
<rect x="234.33" y="97.00" width="1" height="15.50" fill="#089981"/>
<rect x="233.33" y="107.50" width="3" height="4.25" fill="#089981"/>
<rect x="239.09" y="95.00" width="1" height="27.50" fill="#F23645"/>
<rect x="238.09" y="107.00" width="3" height="1.00" fill="#F23645"/>
<rect x="243.85" y="106.00" width="1" height="27.75" fill="#F23645"/>
<rect x="242.85" y="107.50" width="3" height="17.00" fill="#F23645"/>
<rect x="248.61" y="112.50" width="1" height="30.00" fill="#F23645"/>
<rect x="247.61" y="124.50" width="3" height="11.25" fill="#F23645"/>
<rect x="253.37" y="133.00" width="1" height="43.00" fill="#F23645"/>
<rect x="252.37" y="135.00" width="3" height="12.00" fill="#F23645"/>
<rect x="258.13" y="143.75" width="1" height="14.25" fill="#F23645"/>
<rect x="257.13" y="146.00" width="3" height="1.50" fill="#F23645"/>
<rect x="262.90" y="136.25" width="1" height="15.75" fill="#089981"/>
<rect x="261.90" y="138.00" width="3" height="8.25" fill="#089981"/>
<rect x="267.66" y="137.50" width="1" height="12.50" fill="#F23645"/>
<rect x="266.66" y="138.25" width="3" height="6.25" fill="#F23645"/>
<rect x="272.42" y="143.75" width="1" height="14.25" fill="#F23645"/>
<rect x="271.42" y="144.50" width="3" height="2.50" fill="#F23645"/>
<rect x="277.18" y="118.00" width="1" height="29.50" fill="#089981"/>
<rect x="276.18" y="132.50" width="3" height="14.50" fill="#089981"/>
<rect x="281.94" y="115.50" width="1" height="19.50" fill="#F23645"/>
<rect x="280.94" y="132.00" width="3" height="1.75" fill="#F23645"/>
<rect x="286.70" y="120.00" width="1" height="15.00" fill="#089981"/>
<rect x="285.70" y="132.00" width="3" height="2.00" fill="#089981"/>
<rect x="291.46" y="114.50" width="1" height="18.50" fill="#089981"/>
<rect x="290.46" y="115.50" width="3" height="17.00" fill="#089981"/>
<rect x="296.22" y="115.50" width="1" height="15.50" fill="#F23645"/>
<rect x="295.22" y="115.50" width="3" height="15.00" fill="#F23645"/>
<rect x="300.98" y="125.50" width="1" height="14.50" fill="#F23645"/>
<rect x="299.98" y="130.00" width="3" height="8.00" fill="#F23645"/>
<rect x="305.74" y="124.50" width="1" height="50.50" fill="#089981"/>
<rect x="304.74" y="132.00" width="3" height="6.00" fill="#089981"/>
<rect x="310.51" y="99.50" width="1" height="40.50" fill="#089981"/>
<rect x="309.51" y="103.00" width="3" height="29.50" fill="#089981"/>
<rect x="315.27" y="101.00" width="1" height="50.00" fill="#F23645"/>
<rect x="314.27" y="103.00" width="3" height="20.75" fill="#F23645"/>
<rect x="320.03" y="90.50" width="1" height="39.00" fill="#089981"/>
<rect x="319.03" y="107.00" width="3" height="16.75" fill="#089981"/>
<rect x="324.79" y="98.75" width="1" height="11.25" fill="#089981"/>
<rect x="323.79" y="105.00" width="3" height="2.50" fill="#089981"/>
<rect x="329.55" y="84.50" width="1" height="21.50" fill="#089981"/>
<rect x="328.55" y="98.75" width="3" height="6.25" fill="#089981"/>
<rect x="334.31" y="82.50" width="1" height="37.50" fill="#F23645"/>
<rect x="333.31" y="98.75" width="3" height="20.00" fill="#F23645"/>
<rect x="339.07" y="110.00" width="1" height="25.00" fill="#F23645"/>
<rect x="338.07" y="118.00" width="3" height="4.50" fill="#F23645"/>
<rect x="343.83" y="100.75" width="1" height="22.25" fill="#089981"/>
<rect x="342.83" y="117.50" width="3" height="5.00" fill="#089981"/>
<rect x="348.59" y="112.00" width="1" height="24.25" fill="#F23645"/>
<rect x="347.59" y="117.50" width="3" height="6.25" fill="#F23645"/>
<rect x="353.35" y="120.00" width="1" height="23.75" fill="#F23645"/>
<rect x="352.35" y="123.75" width="3" height="11.25" fill="#F23645"/>
<rect x="358.12" y="131.00" width="1" height="15.00" fill="#F23645"/>
<rect x="357.12" y="134.50" width="3" height="4.25" fill="#F23645"/>
<rect x="362.88" y="92.00" width="1" height="58.00" fill="#089981"/>
<rect x="361.88" y="94.50" width="3" height="44.25" fill="#089981"/>
<rect x="367.64" y="52.50" width="1" height="43.50" fill="#089981"/>
<rect x="366.64" y="81.00" width="3" height="14.00" fill="#089981"/>
<rect x="372.40" y="80.00" width="1" height="43.00" fill="#F23645"/>
<rect x="371.40" y="81.25" width="3" height="36.25" fill="#F23645"/>
<rect x="377.16" y="113.75" width="1" height="23.75" fill="#F23645"/>
<rect x="376.16" y="117.50" width="3" height="15.00" fill="#F23645"/>
<rect x="381.92" y="118.75" width="1" height="15.75" fill="#089981"/>
<rect x="380.92" y="123.25" width="3" height="9.25" fill="#089981"/>
<rect x="386.68" y="120.00" width="1" height="23.75" fill="#F23645"/>
<rect x="385.68" y="123.25" width="3" height="18.00" fill="#F23645"/>
<rect x="391.44" y="127.00" width="1" height="18.00" fill="#089981"/>
<rect x="390.44" y="130.00" width="3" height="11.25" fill="#089981"/>
<rect x="396.20" y="100.50" width="1" height="32.50" fill="#089981"/>
<rect x="395.20" y="107.00" width="3" height="23.00" fill="#089981"/>
<rect x="400.96" y="79.50" width="1" height="50.50" fill="#F23645"/>
<rect x="399.96" y="107.00" width="3" height="18.00" fill="#F23645"/>
<rect x="405.73" y="123.75" width="1" height="71.25" fill="#F23645"/>
<rect x="404.73" y="125.00" width="3" height="56.25" fill="#F23645"/>
<rect x="410.49" y="168.75" width="1" height="25.00" fill="#F23645"/>
<rect x="409.49" y="180.50" width="3" height="3.25" fill="#F23645"/>
<rect x="415.25" y="180.00" width="1" height="13.75" fill="#F23645"/>
<rect x="414.25" y="182.50" width="3" height="2.00" fill="#F23645"/>
<rect x="420.01" y="175.00" width="1" height="23.75" fill="#F23645"/>
<rect x="419.01" y="183.75" width="3" height="1.75" fill="#F23645"/>
<rect x="424.77" y="153.75" width="1" height="42.50" fill="#089981"/>
<rect x="423.77" y="163.00" width="3" height="22.50" fill="#089981"/>
<rect x="429.53" y="130.00" width="1" height="33.75" fill="#089981"/>
<rect x="428.53" y="141.25" width="3" height="21.75" fill="#089981"/>
<rect x="434.29" y="119.50" width="1" height="34.25" fill="#089981"/>
<rect x="433.29" y="127.00" width="3" height="14.25" fill="#089981"/>
<rect x="439.05" y="123.75" width="1" height="13.75" fill="#F23645"/>
<rect x="438.05" y="127.00" width="3" height="7.50" fill="#F23645"/>
<rect x="443.81" y="132.50" width="1" height="14.50" fill="#F23645"/>
<rect x="442.81" y="134.50" width="3" height="8.00" fill="#F23645"/>
<rect x="448.57" y="127.50" width="1" height="43.75" fill="#F23645"/>
<rect x="447.57" y="142.00" width="3" height="26.75" fill="#F23645"/>
<rect x="453.34" y="150.50" width="1" height="24.50" fill="#089981"/>
<rect x="452.34" y="160.50" width="3" height="7.50" fill="#089981"/>
<rect x="458.10" y="148.75" width="1" height="15.00" fill="#089981"/>
<rect x="457.10" y="151.25" width="3" height="9.25" fill="#089981"/>
<rect x="462.86" y="137.50" width="1" height="16.25" fill="#089981"/>
<rect x="461.86" y="138.75" width="3" height="12.50" fill="#089981"/>
<rect x="467.62" y="135.00" width="1" height="10.00" fill="#F23645"/>
<rect x="466.62" y="138.75" width="3" height="2.50" fill="#F23645"/>
<rect x="472.38" y="123.75" width="1" height="20.00" fill="#089981"/>
<rect x="471.38" y="127.50" width="3" height="13.75" fill="#089981"/>
<rect x="477.14" y="111.25" width="1" height="25.00" fill="#089981"/>
<rect x="476.14" y="112.50" width="3" height="15.75" fill="#089981"/>
<rect x="481.90" y="102.50" width="1" height="27.50" fill="#F23645"/>
<rect x="480.90" y="112.50" width="3" height="13.75" fill="#F23645"/>
<rect x="486.66" y="116.00" width="1" height="17.75" fill="#089981"/>
<rect x="485.66" y="117.50" width="3" height="8.00" fill="#089981"/>
<rect x="491.42" y="113.00" width="1" height="10.75" fill="#F23645"/>
<rect x="490.42" y="117.50" width="3" height="3.75" fill="#F23645"/>
<rect x="496.18" y="118.75" width="1" height="8.75" fill="#089981"/>
<rect x="495.18" y="119.25" width="3" height="1.50" fill="#089981"/>
<rect x="500.95" y="114.50" width="1" height="30.50" fill="#F23645"/>
<rect x="499.95" y="117.50" width="3" height="18.75" fill="#F23645"/>
<rect x="505.71" y="122.50" width="1" height="25.00" fill="#F23645"/>
<rect x="504.71" y="135.00" width="3" height="6.25" fill="#F23645"/>
<rect x="510.47" y="137.50" width="1" height="11.25" fill="#F23645"/>
<rect x="509.47" y="140.00" width="3" height="7.50" fill="#F23645"/>
<rect x="515.23" y="144.50" width="1" height="31.75" fill="#F23645"/>
<rect x="514.23" y="146.25" width="3" height="15.00" fill="#F23645"/>
<rect x="519.99" y="121.25" width="1" height="41.25" fill="#089981"/>
<rect x="518.99" y="135.00" width="3" height="26.25" fill="#089981"/>
<rect x="524.75" y="130.00" width="1" height="8.75" fill="#089981"/>
<rect x="523.75" y="134.25" width="3" height="1.25" fill="#089981"/>
<rect x="529.51" y="126.25" width="1" height="13.75" fill="#F23645"/>
<rect x="528.51" y="134.25" width="3" height="3.75" fill="#F23645"/>
<rect x="534.27" y="132.50" width="1" height="83.75" fill="#F23645"/>
<rect x="533.27" y="138.00" width="3" height="62.50" fill="#F23645"/>
<rect x="539.03" y="200.00" width="1" height="42.50" fill="#F23645"/>
<rect x="538.03" y="200.50" width="3" height="21.50" fill="#F23645"/>
<rect x="543.79" y="200.50" width="1" height="32.50" fill="#089981"/>
<rect x="542.79" y="202.00" width="3" height="20.00" fill="#089981"/>
<rect x="548.55" y="201.25" width="1" height="18.25" fill="#F23645"/>
<rect x="547.55" y="202.00" width="3" height="7.50" fill="#F23645"/>
<rect x="553.32" y="185.00" width="1" height="42.50" fill="#089981"/>
<rect x="552.32" y="199.50" width="3" height="10.00" fill="#089981"/>
<rect x="558.08" y="181.25" width="1" height="23.75" fill="#089981"/>
<rect x="557.08" y="186.25" width="3" height="13.75" fill="#089981"/>
<rect x="562.84" y="158.75" width="1" height="31.25" fill="#089981"/>
<rect x="561.84" y="162.00" width="3" height="24.25" fill="#089981"/>
<rect x="567.60" y="162.00" width="1" height="21.75" fill="#F23645"/>
<rect x="566.60" y="162.00" width="3" height="7.50" fill="#F23645"/>
<rect x="572.36" y="162.50" width="1" height="15.00" fill="#089981"/>
<rect x="571.36" y="163.75" width="3" height="12.50" fill="#089981"/>
<rect x="577.12" y="162.50" width="1" height="30.50" fill="#F23645"/>
<rect x="576.12" y="163.75" width="3" height="27.50" fill="#F23645"/>
<rect x="581.88" y="174.50" width="1" height="32.50" fill="#089981"/>
<rect x="580.88" y="181.25" width="3" height="10.75" fill="#089981"/>
<rect x="586.64" y="180.00" width="1" height="28.00" fill="#F23645"/>
<rect x="585.64" y="181.25" width="3" height="17.50" fill="#F23645"/>
<rect x="591.40" y="162.50" width="1" height="52.50" fill="#F23645"/>
<rect x="590.40" y="198.75" width="3" height="14.25" fill="#F23645"/>
<rect x="596.16" y="203.75" width="1" height="55.00" fill="#F23645"/>
<rect x="595.16" y="212.50" width="3" height="30.00" fill="#F23645"/>
<rect x="600.93" y="233.75" width="1" height="16.25" fill="#089981"/>
<rect x="599.93" y="237.00" width="3" height="5.50" fill="#089981"/>
<rect x="605.69" y="228.00" width="1" height="30.75" fill="#F23645"/>
<rect x="604.69" y="236.25" width="3" height="15.75" fill="#F23645"/>
<rect x="610.45" y="247.50" width="1" height="18.75" fill="#F23645"/>
<rect x="609.45" y="251.25" width="3" height="7.50" fill="#F23645"/>
<rect x="615.21" y="241.25" width="1" height="18.75" fill="#089981"/>
<rect x="614.21" y="244.50" width="3" height="14.25" fill="#089981"/>
<rect x="619.97" y="213.00" width="1" height="33.25" fill="#089981"/>
<rect x="618.97" y="225.00" width="3" height="19.50" fill="#089981"/>
<rect x="624.73" y="223.75" width="1" height="68.75" fill="#F23645"/>
<rect x="623.73" y="225.00" width="3" height="65.00" fill="#F23645"/>
<rect x="629.49" y="263.00" width="1" height="27.50" fill="#089981"/>
<rect x="628.49" y="266.25" width="3" height="23.75" fill="#089981"/>
<rect x="634.25" y="240.00" width="1" height="45.00" fill="#089981"/>
<rect x="633.25" y="248.75" width="3" height="18.25" fill="#089981"/>
<rect x="639.01" y="221.25" width="1" height="31.75" fill="#089981"/>
<rect x="638.01" y="237.00" width="3" height="11.75" fill="#089981"/>
<rect x="643.77" y="222.50" width="1" height="15.50" fill="#089981"/>
<rect x="642.77" y="223.00" width="3" height="14.00" fill="#089981"/>
<rect x="648.54" y="209.50" width="1" height="25.50" fill="#F23645"/>
<rect x="647.54" y="223.00" width="3" height="6.50" fill="#F23645"/>
<rect x="653.30" y="203.00" width="1" height="32.00" fill="#089981"/>
<rect x="652.30" y="207.00" width="3" height="22.50" fill="#089981"/>
<rect x="658.06" y="193.00" width="1" height="18.25" fill="#089981"/>
<rect x="657.06" y="201.25" width="3" height="6.25" fill="#089981"/>
<rect x="662.82" y="199.50" width="1" height="9.50" fill="#089981"/>
<rect x="661.82" y="202.00" width="3" height="6.00" fill="#089981"/>
<rect x="667.58" y="200.50" width="1" height="13.25" fill="#F23645"/>
<rect x="666.58" y="202.00" width="3" height="10.50" fill="#F23645"/>
<rect x="672.34" y="207.00" width="1" height="11.75" fill="#F23645"/>
<rect x="671.34" y="212.00" width="3" height="2.50" fill="#F23645"/>
<rect x="677.10" y="211.00" width="1" height="7.75" fill="#089981"/>
<rect x="676.10" y="212.00" width="3" height="1.50" fill="#089981"/>
<rect x="681.86" y="211.00" width="1" height="4.00" fill="#F23645"/>
<rect x="680.86" y="211.50" width="3" height="3.00" fill="#F23645"/>
<rect x="686.62" y="209.50" width="1" height="8.00" fill="#089981"/>
<rect x="685.62" y="211.25" width="3" height="3.25" fill="#089981"/>
<rect x="691.38" y="210.00" width="1" height="17.50" fill="#F23645"/>
<rect x="690.38" y="212.00" width="3" height="9.25" fill="#F23645"/>
<rect x="696.15" y="218.75" width="1" height="5.75" fill="#F23645"/>
<rect x="695.15" y="220.00" width="3" height="2.00" fill="#F23645"/>
<rect x="700.91" y="198.75" width="1" height="23.75" fill="#089981"/>
<rect x="699.91" y="205.50" width="3" height="16.50" fill="#089981"/>
<rect x="705.67" y="200.00" width="1" height="30.50" fill="#F23645"/>
<rect x="704.67" y="205.50" width="3" height="19.00" fill="#F23645"/>
<rect x="710.43" y="206.00" width="1" height="22.75" fill="#089981"/>
<rect x="709.43" y="208.00" width="3" height="17.00" fill="#089981"/>
<rect x="715.19" y="198.75" width="1" height="18.75" fill="#089981"/>
<rect x="714.19" y="201.25" width="3" height="7.25" fill="#089981"/>
<rect x="719.95" y="181.25" width="1" height="33.75" fill="#F23645"/>
<rect x="718.95" y="201.25" width="3" height="6.75" fill="#F23645"/>
<rect x="724.71" y="196.25" width="1" height="12.50" fill="#089981"/>
<rect x="723.71" y="201.25" width="3" height="6.75" fill="#089981"/>
<rect x="729.47" y="181.25" width="1" height="21.25" fill="#089981"/>
<rect x="728.47" y="186.25" width="3" height="15.75" fill="#089981"/>
<rect x="734.23" y="173.75" width="1" height="13.75" fill="#089981"/>
<rect x="733.23" y="181.25" width="3" height="5.75" fill="#089981"/>
<rect x="739.00" y="178.00" width="1" height="27.50" fill="#F23645"/>
<rect x="738.00" y="182.00" width="3" height="22.50" fill="#F23645"/>
<rect x="743.76" y="196.25" width="1" height="16.25" fill="#089981"/>
<rect x="742.76" y="202.00" width="3" height="2.50" fill="#089981"/>
<rect x="748.52" y="197.50" width="1" height="17.50" fill="#F23645"/>
<rect x="747.52" y="202.00" width="3" height="2.50" fill="#F23645"/>
<rect x="753.28" y="203.75" width="1" height="23.75" fill="#F23645"/>
<rect x="752.28" y="204.50" width="3" height="20.50" fill="#F23645"/>
<rect x="758.04" y="213.75" width="1" height="11.75" fill="#089981"/>
<rect x="757.04" y="214.50" width="3" height="10.50" fill="#089981"/>
<rect x="762.80" y="213.75" width="1" height="33.75" fill="#F23645"/>
<rect x="761.80" y="214.00" width="3" height="20.75" fill="#F23645"/>
<rect x="767.56" y="220.75" width="1" height="25.75" fill="#F23645"/>
<rect x="766.56" y="234.50" width="3" height="6.75" fill="#F23645"/>
<rect x="772.32" y="227.00" width="1" height="17.00" fill="#089981"/>
<rect x="771.32" y="234.50" width="3" height="6.75" fill="#089981"/>
<rect x="777.08" y="226.25" width="1" height="25.75" fill="#F23645"/>
<rect x="776.08" y="234.50" width="3" height="8.50" fill="#F23645"/>
<rect x="781.84" y="239.00" width="1" height="13.50" fill="#F23645"/>
<rect x="780.84" y="242.00" width="3" height="7.50" fill="#F23645"/>
<rect x="786.61" y="245.50" width="1" height="9.50" fill="#F23645"/>
<rect x="785.61" y="249.50" width="3" height="2.50" fill="#F23645"/>
<rect x="791.37" y="237.00" width="1" height="17.50" fill="#089981"/>
<rect x="790.37" y="241.25" width="3" height="8.25" fill="#089981"/>
<rect x="796.13" y="224.50" width="1" height="18.50" fill="#089981"/>
<rect x="795.13" y="225.50" width="3" height="16.50" fill="#089981"/>
<rect x="800.89" y="221.25" width="1" height="10.00" fill="#F23645"/>
<rect x="799.89" y="225.50" width="3" height="4.00" fill="#F23645"/>
<rect x="805.65" y="227.50" width="1" height="8.00" fill="#F23645"/>
<rect x="804.65" y="228.75" width="3" height="5.00" fill="#F23645"/>
<rect x="810.41" y="232.00" width="1" height="5.50" fill="#F23645"/>
<rect x="809.41" y="233.00" width="3" height="4.00" fill="#F23645"/>
<rect x="815.17" y="233.75" width="1" height="21.75" fill="#F23645"/>
<rect x="814.17" y="235.50" width="3" height="14.50" fill="#F23645"/>
<rect x="819.93" y="233.75" width="1" height="21.75" fill="#089981"/>
<rect x="818.93" y="238.00" width="3" height="12.00" fill="#089981"/>
<rect x="824.69" y="236.25" width="1" height="8.75" fill="#F23645"/>
<rect x="823.69" y="238.00" width="3" height="3.25" fill="#F23645"/>
<rect x="829.45" y="239.50" width="1" height="35.50" fill="#F23645"/>
<rect x="828.45" y="241.25" width="3" height="26.25" fill="#F23645"/>
<rect x="834.22" y="233.00" width="1" height="38.25" fill="#089981"/>
<rect x="833.22" y="242.00" width="3" height="26.00" fill="#089981"/>
<rect x="838.98" y="227.50" width="1" height="22.50" fill="#089981"/>
<rect x="837.98" y="241.25" width="3" height="1.75" fill="#089981"/>
<rect x="843.74" y="237.50" width="1" height="10.00" fill="#F23645"/>
<rect x="842.74" y="242.00" width="3" height="3.50" fill="#F23645"/>
<rect x="848.50" y="237.00" width="1" height="51.00" fill="#F23645"/>
<rect x="847.50" y="245.50" width="3" height="24.50" fill="#F23645"/>
<rect x="853.26" y="255.50" width="1" height="15.75" fill="#089981"/>
<rect x="852.26" y="260.50" width="3" height="9.50" fill="#089981"/>
<rect x="858.02" y="248.75" width="1" height="13.75" fill="#089981"/>
<rect x="857.02" y="255.50" width="3" height="5.75" fill="#089981"/>
<rect x="862.78" y="251.25" width="1" height="6.25" fill="#089981"/>
<rect x="861.78" y="252.50" width="3" height="4.50" fill="#089981"/>
<rect x="867.54" y="237.50" width="1" height="18.50" fill="#089981"/>
<rect x="866.54" y="242.50" width="3" height="10.50" fill="#089981"/>
<rect x="872.30" y="237.00" width="1" height="11.75" fill="#089981"/>
<rect x="871.30" y="242.00" width="3" height="1.50" fill="#089981"/>
<rect x="877.06" y="239.50" width="1" height="7.50" fill="#F23645"/>
<rect x="876.06" y="241.25" width="3" height="1.75" fill="#F23645"/>
<rect x="881.82" y="239.50" width="1" height="6.00" fill="#089981"/>
<rect x="880.82" y="241.25" width="3" height="1.75" fill="#089981"/>
<rect x="886.59" y="230.00" width="1" height="13.75" fill="#089981"/>
<rect x="885.59" y="231.25" width="3" height="11.25" fill="#089981"/>
<rect x="891.35" y="231.25" width="1" height="14.25" fill="#F23645"/>
<rect x="890.35" y="232.00" width="3" height="9.25" fill="#F23645"/>
<rect x="896.11" y="235.00" width="1" height="6.25" fill="#089981"/>
<rect x="895.11" y="235.50" width="3" height="5.00" fill="#089981"/>
<rect x="900.87" y="205.50" width="1" height="30.75" fill="#089981"/>
<rect x="899.87" y="210.50" width="3" height="25.00" fill="#089981"/>
<rect x="905.63" y="191.25" width="1" height="20.00" fill="#089981"/>
<rect x="904.63" y="197.00" width="3" height="13.50" fill="#089981"/>
<rect x="910.39" y="182.50" width="1" height="17.50" fill="#F23645"/>
<rect x="909.39" y="197.00" width="3" height="2.50" fill="#F23645"/>
<rect x="915.15" y="193.00" width="1" height="12.00" fill="#F23645"/>
<rect x="914.15" y="199.50" width="3" height="1.75" fill="#F23645"/>
<rect x="919.91" y="172.00" width="1" height="30.00" fill="#089981"/>
<rect x="918.91" y="178.00" width="3" height="23.25" fill="#089981"/>
<rect x="924.67" y="173.00" width="1" height="28.25" fill="#F23645"/>
<rect x="923.67" y="178.00" width="3" height="19.50" fill="#F23645"/>
<rect x="929.43" y="196.00" width="1" height="2.00" fill="#089981"/>
<rect x="928.43" y="196.50" width="3" height="1.00" fill="#089981"/>
</g>
<line x1="0" y1="196.3" x2="987" y2="196.3" stroke="#089981" stroke-width="1" stroke-dasharray="1 2" opacity="0.3"/>
<line x1="0" y1="198.2" x2="987" y2="198.2" stroke="#5d606b" stroke-width="1" stroke-dasharray="2.9 3.225" stroke-dashoffset="1.17"/>
<line x1="253.5" y1="29.5" x2="987" y2="262.75" stroke="#3b63dd" stroke-width="1.3"/>
<line x1="255" y1="176" x2="831.75" y2="359.1" stroke="#3b63dd" stroke-width="1.3"/>
<line x1="252" y1="102" x2="987" y2="335" stroke="#6d84cc" stroke-width="1" stroke-dasharray="3.5 4" opacity="0.85"/>
<line x1="0" y1="220" x2="190.5" y2="359.5" stroke="#e04a60" stroke-width="1.5"/>
<line x1="0.5" y1="0" x2="0.5" y2="442" stroke="#e6e8ee" stroke-width="1"/>
<rect x="0" y="389.1" width="987" height="48.5" fill="rgba(126,87,194,0.1)"/>
<line x1="0" y1="389.1" x2="987" y2="389.1" stroke="#8a8d96" stroke-width="1" stroke-dasharray="3.2 3.05" stroke-dashoffset="1.6" opacity="0.7"/>
<line x1="0" y1="413.35" x2="987" y2="413.35" stroke="#8a8d96" stroke-width="1" stroke-dasharray="3.2 3.05" stroke-dashoffset="1.6" opacity="0.7"/>
<line x1="0" y1="437.6" x2="987" y2="437.6" stroke="#8a8d96" stroke-width="1" stroke-dasharray="3.2 3.05" stroke-dashoffset="1.6" opacity="0.7"/>
<polyline points="1.54,408.22 6.30,407.07 11.06,406.04 15.82,405.09 20.58,404.11 25.34,403.01 30.11,401.98 34.87,401.17 39.63,401.04 44.39,400.47 49.15,399.50 53.91,399.42 58.67,399.30 63.43,399.35 68.19,400.68 72.96,402.20 77.72,403.41 82.48,404.98 87.24,406.62 92.00,408.18 96.76,409.70 101.52,410.89 106.28,410.40 111.04,410.32 115.80,411.81 120.57,413.90 125.33,415.89 130.09,417.89 134.85,419.90 139.61,421.70 144.37,423.03 149.13,423.83 153.89,424.48 158.65,424.73 163.41,423.95 168.17,422.98 172.94,423.22 177.70,423.21 182.46,421.80 187.22,418.84 191.98,416.12 196.74,412.95 201.50,409.21 206.26,405.82 211.02,403.36 215.78,401.09 220.55,398.88 225.31,397.85 230.07,397.78 234.83,397.95 239.59,397.89 244.35,398.55 249.11,399.68 253.87,401.12 258.63,402.48 263.40,403.86 268.16,405.70 272.92,407.42 277.68,408.44 282.44,409.42 287.20,410.41 291.96,410.35 296.72,410.82 301.48,411.57 306.24,412.14 311.01,411.56 315.77,411.34 320.53,410.49 325.29,409.58 330.05,408.78 334.81,408.41 339.57,408.08 344.33,408.02 349.09,408.10 353.85,408.57 358.62,409.58 363.38,408.95 368.14,407.84 372.90,407.87 377.66,408.96 382.42,409.22 387.18,410.25 391.94,411.06 396.70,411.51 401.46,411.76 406.23,412.86 410.99,414.13 415.75,415.23 420.51,416.02 425.27,416.13 430.03,416.93 434.79,417.72 439.55,417.71 444.31,417.54 449.07,418.10 453.84,418.09 458.60,418.13 463.36,418.38 468.12,418.29 472.88,416.94 477.64,415.23 482.40,413.88 487.16,412.31 491.92,411.42 496.68,410.96 501.45,411.26 506.21,411.53 510.97,411.79 515.73,411.87 520.49,411.39 525.25,411.11 530.01,411.23 534.77,412.58 539.53,414.55 544.29,416.29 549.05,417.79 553.82,419.20 558.58,420.18 563.34,420.64 568.10,420.79 572.86,420.67 577.62,420.94 582.38,420.64 587.14,421.41 591.90,422.46 596.66,423.85 601.43,423.78 606.19,423.63 610.95,424.12 615.71,424.08 620.47,423.79 625.23,424.78 629.99,425.79 634.75,426.29 639.51,426.69 644.27,426.26 649.04,426.18 653.80,425.35 658.56,424.16 663.32,422.55 668.08,421.30 672.84,419.88 677.60,418.31 682.36,417.21 687.12,416.54 691.88,415.20 696.65,414.42 701.41,413.52 706.17,413.37 710.93,413.04 715.69,412.43 720.45,412.44 725.21,412.37 729.97,411.90 734.73,411.10 739.50,410.96 744.26,410.82 749.02,410.70 753.78,411.23 758.54,411.17 763.30,411.60 768.06,412.65 772.82,412.96 777.58,413.93 782.34,415.21 787.11,416.36 791.87,417.28 796.63,418.06 801.39,419.07 806.15,419.49 810.91,420.08 815.67,420.98 820.43,420.84 825.19,421.13 829.95,421.61 834.72,421.08 839.48,420.74 844.24,420.31 849.00,420.35 853.76,420.00 858.52,419.89 863.28,420.20 868.04,420.07 872.80,419.78 877.56,419.43 882.32,418.64 887.09,417.93 891.85,417.51 896.61,416.18 901.37,414.94 906.13,413.40 910.89,411.84 915.65,409.75 920.41,407.43 925.17,406.08 929.93,404.80" fill="none" stroke="rgba(247,200,40,0.55)" stroke-width="1"/>
<polyline points="1.54,394.94 6.30,393.13 11.06,394.83 15.82,396.01 20.58,395.43 25.34,393.89 30.11,394.82 34.87,397.92 39.63,407.43 44.39,401.24 49.15,395.63 53.91,408.11 58.67,407.54 63.43,409.95 68.19,413.65 72.96,414.32 77.72,411.79 82.48,418.05 87.24,418.38 92.00,415.70 96.76,416.09 101.52,414.53 106.28,400.66 111.04,400.06 115.80,416.50 120.57,437.37 125.33,435.38 130.09,437.92 134.85,441.83 139.61,439.46 144.37,430.55 149.13,429.19 153.89,427.47 158.65,419.25 163.41,405.18 168.17,400.84 172.94,404.09 177.70,399.85 182.46,396.84 187.22,395.93 191.98,397.24 196.74,393.64 201.50,389.39 206.26,392.00 211.02,396.22 215.78,397.40 220.55,396.43 225.31,404.84 230.07,404.20 234.83,403.18 239.59,403.36 244.35,409.04 249.11,412.67 253.87,416.14 258.63,416.29 263.40,412.91 268.16,415.18 272.92,416.07 277.68,410.51 282.44,411.02 287.20,410.32 291.96,404.04 296.72,410.69 301.48,413.77 306.24,411.27 311.01,400.99 315.77,409.57 320.53,404.22 325.29,403.61 330.05,401.64 334.81,410.03 339.57,411.49 344.33,409.60 349.09,412.24 353.85,416.78 358.62,418.25 363.38,401.89 368.14,398.15 372.90,411.70 377.66,416.26 382.42,413.27 387.18,418.64 391.94,414.88 396.70,407.94 401.46,413.54 406.23,426.92 410.99,427.42 415.75,427.57 420.51,427.80 425.27,419.83 430.03,413.15 434.79,409.18 439.55,411.47 444.31,413.91 449.07,421.18 453.84,418.45 458.60,415.42 463.36,411.48 468.12,412.30 472.88,407.93 477.64,403.55 482.40,408.59 487.16,405.94 491.92,407.38 496.68,406.71 501.45,413.36 506.21,415.20 510.97,417.50 515.73,422.30 520.49,411.81 525.25,411.54 530.01,413.03 534.77,431.29 539.53,435.53 544.29,427.91 549.05,429.53 553.82,425.77 558.58,420.99 563.34,413.19 568.10,415.39 572.86,413.54 577.62,421.38 582.38,418.01 587.14,422.68 591.90,426.17 596.66,432.45 601.43,430.37 606.19,433.43 610.95,434.76 615.71,428.97 620.47,421.78 625.23,434.80 629.99,427.36 634.75,422.34 639.51,419.12 644.27,415.39 649.04,416.96 653.80,411.02 658.56,409.57 663.32,409.79 668.08,412.94 672.84,413.55 677.60,412.73 682.36,413.59 687.12,412.40 691.88,416.10 696.65,416.38 701.41,409.75 706.17,416.99 710.93,410.77 715.69,408.40 720.45,411.13 725.21,408.58 729.97,403.31 734.73,401.65 739.50,411.71 744.26,410.76 749.02,411.82 753.78,419.83 758.54,415.31 763.30,422.40 768.06,424.47 772.82,421.35 777.58,424.24 782.34,426.39 787.11,427.22 791.87,421.53 796.63,414.11 801.39,415.80 806.15,417.62 810.91,419.03 815.67,424.39 820.43,417.97 825.19,419.37 829.95,429.13 834.72,416.93 839.48,416.61 844.24,418.29 849.00,426.87 853.76,422.32 858.52,419.98 863.28,418.55 868.04,413.88 872.80,413.65 877.56,414.13 882.32,413.21 887.09,408.06 891.85,413.51 896.61,410.51 901.37,399.62 906.13,394.98 910.89,396.48 915.65,397.58 920.41,389.90 925.17,400.99 929.93,400.64" fill="none" stroke="#7e57c2" stroke-width="1" opacity="0.85"/>
<rect x="3" y="3" width="174" height="14.3" rx="2" fill="#fff" opacity="0.85"/>
<rect x="3" y="19" width="70" height="9.5" rx="2" fill="#fff" opacity="0.85"/>
<text x="6.3" y="9.6" font-size="7.2" fill="#2a2e39" stroke="#2a2e39" stroke-width="0.22" text-anchor="start" font-weight="normal" dominant-baseline="central" textLength="64.5" lengthAdjust="spacingAndGlyphs" >EMA 20/50/100/200</text>
<text x="75.9" y="9.6" font-size="7.2" fill="#e8505c" stroke="#e8505c" stroke-width="0.22" text-anchor="start" font-weight="normal" dominant-baseline="central" textLength="21.8" lengthAdjust="spacingAndGlyphs" >851,14</text>
<text x="101.2" y="9.6" font-size="7.2" fill="#f59a3c" stroke="#f59a3c" stroke-width="0.22" text-anchor="start" font-weight="normal" dominant-baseline="central" textLength="21.3" lengthAdjust="spacingAndGlyphs" >849,62</text>
<text x="127.0" y="9.6" font-size="7.2" fill="#3fd6e8" stroke="#3fd6e8" stroke-width="0.22" text-anchor="start" font-weight="normal" dominant-baseline="central" textLength="21.2" lengthAdjust="spacingAndGlyphs" >855,98</text>
<text x="152.5" y="9.6" font-size="7.2" fill="#3a3ad0" stroke="#3a3ad0" stroke-width="0.22" text-anchor="start" font-weight="normal" dominant-baseline="central" textLength="20.8" lengthAdjust="spacingAndGlyphs" >874,53</text>
<text x="6.3" y="23.2" font-size="7.2" fill="#2a2e39" stroke="#2a2e39" stroke-width="0.22" text-anchor="start" font-weight="normal" dominant-baseline="central" textLength="39.6" lengthAdjust="spacingAndGlyphs" >Hacim · BNB</text>
<text x="51.7" y="23.2" font-size="7.2" fill="#3aa89a" stroke="#3aa89a" stroke-width="0.22" text-anchor="start" font-weight="normal" dominant-baseline="central" textLength="19.0" lengthAdjust="spacingAndGlyphs" >1,06 K</text>
<rect x="7.3" y="31.9" width="13.6" height="10.2" rx="1.2" fill="#fff" stroke="#e0e3eb" stroke-width="0.8"/>
<path d="M12.0 38.3 L14.1 36.3 L16.2 38.3" fill="none" stroke="#131722" stroke-width="1.2"/>
<text x="992.4" y="27" font-size="6.8" fill="#2a2e39" stroke="#2a2e39" stroke-width="0.22" text-anchor="start" font-weight="normal" dominant-baseline="central" textLength="20.6" lengthAdjust="spacingAndGlyphs" >940,00</text>
<text x="992.4" y="47.8" font-size="6.8" fill="#2a2e39" stroke="#2a2e39" stroke-width="0.22" text-anchor="start" font-weight="normal" dominant-baseline="central" textLength="20.6" lengthAdjust="spacingAndGlyphs" >930,00</text>
<text x="992.4" y="68.6" font-size="6.8" fill="#2a2e39" stroke="#2a2e39" stroke-width="0.22" text-anchor="start" font-weight="normal" dominant-baseline="central" textLength="20.6" lengthAdjust="spacingAndGlyphs" >920,00</text>
<text x="992.4" y="89.4" font-size="6.8" fill="#2a2e39" stroke="#2a2e39" stroke-width="0.22" text-anchor="start" font-weight="normal" dominant-baseline="central" textLength="20.6" lengthAdjust="spacingAndGlyphs" >910,00</text>
<text x="992.4" y="110.5" font-size="6.8" fill="#2a2e39" stroke="#2a2e39" stroke-width="0.22" text-anchor="start" font-weight="normal" dominant-baseline="central" textLength="20.6" lengthAdjust="spacingAndGlyphs" >900,00</text>
<text x="992.4" y="132.3" font-size="6.8" fill="#2a2e39" stroke="#2a2e39" stroke-width="0.22" text-anchor="start" font-weight="normal" dominant-baseline="central" textLength="20.6" lengthAdjust="spacingAndGlyphs" >890,00</text>
<text x="992.4" y="153.8" font-size="6.8" fill="#2a2e39" stroke="#2a2e39" stroke-width="0.22" text-anchor="start" font-weight="normal" dominant-baseline="central" textLength="20.6" lengthAdjust="spacingAndGlyphs" >880,00</text>
<text x="992.4" y="176.2" font-size="6.8" fill="#2a2e39" stroke="#2a2e39" stroke-width="0.22" text-anchor="start" font-weight="normal" dominant-baseline="central" textLength="20.6" lengthAdjust="spacingAndGlyphs" >870,00</text>
<text x="992.4" y="215.8" font-size="6.8" fill="#2a2e39" stroke="#2a2e39" stroke-width="0.22" text-anchor="start" font-weight="normal" dominant-baseline="central" textLength="20.6" lengthAdjust="spacingAndGlyphs" >850,00</text>
<text x="992.4" y="247.5" font-size="6.8" fill="#2a2e39" stroke="#2a2e39" stroke-width="0.22" text-anchor="start" font-weight="normal" dominant-baseline="central" textLength="20.6" lengthAdjust="spacingAndGlyphs" >838,00</text>
<text x="992.4" y="265.4" font-size="6.8" fill="#2a2e39" stroke="#2a2e39" stroke-width="0.22" text-anchor="start" font-weight="normal" dominant-baseline="central" textLength="20.6" lengthAdjust="spacingAndGlyphs" >830,50</text>
<text x="992.4" y="283.7" font-size="6.8" fill="#2a2e39" stroke="#2a2e39" stroke-width="0.22" text-anchor="start" font-weight="normal" dominant-baseline="central" textLength="20.6" lengthAdjust="spacingAndGlyphs" >822,50</text>
<text x="992.4" y="302.1" font-size="6.8" fill="#2a2e39" stroke="#2a2e39" stroke-width="0.22" text-anchor="start" font-weight="normal" dominant-baseline="central" textLength="20.6" lengthAdjust="spacingAndGlyphs" >814,50</text>
<text x="992.4" y="321.2" font-size="6.8" fill="#2a2e39" stroke="#2a2e39" stroke-width="0.22" text-anchor="start" font-weight="normal" dominant-baseline="central" textLength="20.6" lengthAdjust="spacingAndGlyphs" >806,50</text>
<text x="992.4" y="340.3" font-size="6.8" fill="#2a2e39" stroke="#2a2e39" stroke-width="0.22" text-anchor="start" font-weight="normal" dominant-baseline="central" textLength="20.6" lengthAdjust="spacingAndGlyphs" >798,50</text>
<text x="992.4" y="376.5" font-size="6.8" fill="#2a2e39" stroke="#2a2e39" stroke-width="0.22" text-anchor="start" font-weight="normal" dominant-baseline="central" textLength="16.4" lengthAdjust="spacingAndGlyphs" >80,00</text>
<text x="992.4" y="424.5" font-size="6.8" fill="#2a2e39" stroke="#2a2e39" stroke-width="0.22" text-anchor="start" font-weight="normal" dominant-baseline="central" textLength="16.4" lengthAdjust="spacingAndGlyphs" >40,00</text>
<rect x="988" y="152.0" width="27.7" height="9.40" fill="#f23645" rx="0.8"/>
<text x="992.4" y="156.79999999999998" font-size="6.8" fill="#fff" stroke="#fff" stroke-width="0.22" text-anchor="start" font-weight="normal" dominant-baseline="central" textLength="20.2" lengthAdjust="spacingAndGlyphs" >876,30</text>
<rect x="988" y="161.4" width="27.7" height="9.60" fill="#1e1ef0" rx="0.8"/>
<text x="992.4" y="166.29999999999998" font-size="6.8" fill="#fff" stroke="#fff" stroke-width="0.22" text-anchor="start" font-weight="normal" dominant-baseline="central" textLength="20.2" lengthAdjust="spacingAndGlyphs" >874,53</text>
<rect x="988" y="191.7" width="27.7" height="8.90" fill="#089981" rx="0.8"/>
<text x="992.4" y="196.24999999999997" font-size="6.8" fill="#fff" stroke="#fff" stroke-width="0.22" text-anchor="start" font-weight="normal" dominant-baseline="central" textLength="20.2" lengthAdjust="spacingAndGlyphs" >861,05</text>
<rect x="988" y="202.9" width="27.7" height="9.10" fill="#00f0ff" rx="0.8"/>
<text x="992.4" y="207.54999999999998" font-size="6.8" fill="#131722" stroke="#131722" stroke-width="0.22" text-anchor="start" font-weight="normal" dominant-baseline="central" textLength="20.2" lengthAdjust="spacingAndGlyphs" >855,98</text>
<rect x="988" y="214.0" width="27.7" height="9.20" fill="#f51010" rx="0.8"/>
<text x="992.4" y="218.7" font-size="6.8" fill="#fff" stroke="#fff" stroke-width="0.22" text-anchor="start" font-weight="normal" dominant-baseline="central" textLength="20.2" lengthAdjust="spacingAndGlyphs" >851,14</text>
<rect x="988" y="223.2" width="27.7" height="9.50" fill="#fb7c0c" rx="0.8"/>
<text x="992.4" y="228.04999999999998" font-size="6.8" fill="#fff" stroke="#fff" stroke-width="0.22" text-anchor="start" font-weight="normal" dominant-baseline="central" textLength="20.2" lengthAdjust="spacingAndGlyphs" >849,62</text>
<rect x="988" y="351.0" width="26" height="8.80" fill="#22ab94" rx="0.8"/>
<text x="992.4" y="355.5" font-size="6.8" fill="#fff" stroke="#fff" stroke-width="0.22" text-anchor="start" font-weight="normal" dominant-baseline="central" textLength="20.2" lengthAdjust="spacingAndGlyphs" >1,06 K</text>
<rect x="988" y="395.7" width="24.2" height="9.30" fill="#7050c8" rx="0.8"/>
<text x="992.4" y="400.45000000000005" font-size="6.8" fill="#fff" stroke="#fff" stroke-width="0.22" text-anchor="start" font-weight="normal" dominant-baseline="central" textLength="16.6" lengthAdjust="spacingAndGlyphs" >60,73</text>
<rect x="988" y="405.0" width="24.2" height="9.30" fill="#f9d423" rx="0.8"/>
<text x="992.4" y="409.75" font-size="6.8" fill="#131722" stroke="#131722" stroke-width="0.22" text-anchor="start" font-weight="normal" dominant-baseline="central" textLength="16.6" lengthAdjust="spacingAndGlyphs" >57,12</text>
<text x="992.2" y="9.4" font-size="7.5" fill="#2a2e39" stroke="#2a2e39" stroke-width="0.22" text-anchor="start" font-weight="normal" dominant-baseline="central" textLength="15.5" lengthAdjust="spacingAndGlyphs" >USDT</text>
<path d="M1015.8 9.0 L1020.2 9.0 L1018 11.0 Z" fill="#2a2e39"/>
<rect x="990" y="2.2" width="31" height="14.4" rx="2" fill="none" stroke="#f0f1f4" stroke-width="0.7"/>
<text x="6.3" y="369.4" font-size="7.2" fill="#2a2e39" stroke="#2a2e39" stroke-width="0.22" text-anchor="start" font-weight="normal" dominant-baseline="central" textLength="9.4" lengthAdjust="spacingAndGlyphs" >RSI</text>
<circle cx="25.3" cy="368.9" r="4.3" fill="#efe9fb"/>
<circle cx="25.3" cy="368.9" r="2.55" fill="none" stroke="#6a44d4" stroke-width="1.1"/>
<path d="M21.6 368.6 L23.6 367.6 L23.5 370.4 Z M29.0 369.2 L27.0 370.2 L27.1 367.4 Z" fill="#5a34c8"/>
<text x="35.2" y="369.4" font-size="7.2" fill="#9a8edb" stroke="#9a8edb" stroke-width="0.22" text-anchor="start" font-weight="normal" dominant-baseline="central" textLength="18.0" lengthAdjust="spacingAndGlyphs" >60,73</text>
<text x="56.6" y="369.4" font-size="7.2" fill="#f0e27e" stroke="#f0e27e" stroke-width="0.22" text-anchor="start" font-weight="normal" dominant-baseline="central" textLength="17.6" lengthAdjust="spacingAndGlyphs" >57,12</text>
<text x="78.6" y="369.4" font-size="7.2" fill="#2a2e39" stroke="#2a2e39" stroke-width="0.22" text-anchor="start" font-weight="normal" dominant-baseline="central" textLength="4.4" lengthAdjust="spacingAndGlyphs" >∅</text>
<text x="86.4" y="369.4" font-size="7.2" fill="#2a2e39" stroke="#2a2e39" stroke-width="0.22" text-anchor="start" font-weight="normal" dominant-baseline="central" textLength="4.4" lengthAdjust="spacingAndGlyphs" >∅</text>
<text x="6.0" y="455.3" font-size="6.8" fill="#2a2e39" stroke="#2a2e39" stroke-width="0.22" text-anchor="middle" font-weight="normal" dominant-baseline="central" >27</text>
<text x="63.13" y="455.3" font-size="6.8" fill="#2a2e39" stroke="#2a2e39" stroke-width="0.22" text-anchor="middle" font-weight="normal" dominant-baseline="central" >29</text>
<text x="120.26" y="455.3" font-size="6.8" fill="#2a2e39" stroke="#2a2e39" stroke-width="0.0" text-anchor="middle" font-weight="bold" dominant-baseline="central" textLength="10.3" lengthAdjust="spacingAndGlyphs" >Ara</text>
<text x="177.39" y="455.3" font-size="6.8" fill="#2a2e39" stroke="#2a2e39" stroke-width="0.22" text-anchor="middle" font-weight="normal" dominant-baseline="central" >3</text>
<text x="234.52" y="455.3" font-size="6.8" fill="#2a2e39" stroke="#2a2e39" stroke-width="0.22" text-anchor="middle" font-weight="normal" dominant-baseline="central" >5</text>
<text x="291.65" y="455.3" font-size="6.8" fill="#2a2e39" stroke="#2a2e39" stroke-width="0.22" text-anchor="middle" font-weight="normal" dominant-baseline="central" >7</text>
<text x="348.78" y="455.3" font-size="6.8" fill="#2a2e39" stroke="#2a2e39" stroke-width="0.22" text-anchor="middle" font-weight="normal" dominant-baseline="central" >9</text>
<text x="405.91" y="455.3" font-size="6.8" fill="#2a2e39" stroke="#2a2e39" stroke-width="0.22" text-anchor="middle" font-weight="normal" dominant-baseline="central" >11</text>
<text x="463.04" y="455.3" font-size="6.8" fill="#2a2e39" stroke="#2a2e39" stroke-width="0.22" text-anchor="middle" font-weight="normal" dominant-baseline="central" >13</text>
<text x="520.17" y="455.3" font-size="6.8" fill="#2a2e39" stroke="#2a2e39" stroke-width="0.22" text-anchor="middle" font-weight="normal" dominant-baseline="central" >15</text>
<text x="577.3" y="455.3" font-size="6.8" fill="#2a2e39" stroke="#2a2e39" stroke-width="0.22" text-anchor="middle" font-weight="normal" dominant-baseline="central" >17</text>
<text x="634.43" y="455.3" font-size="6.8" fill="#2a2e39" stroke="#2a2e39" stroke-width="0.22" text-anchor="middle" font-weight="normal" dominant-baseline="central" >19</text>
<text x="691.56" y="455.3" font-size="6.8" fill="#2a2e39" stroke="#2a2e39" stroke-width="0.22" text-anchor="middle" font-weight="normal" dominant-baseline="central" >21</text>
<text x="748.69" y="455.3" font-size="6.8" fill="#2a2e39" stroke="#2a2e39" stroke-width="0.22" text-anchor="middle" font-weight="normal" dominant-baseline="central" >23</text>
<text x="805.82" y="455.3" font-size="6.8" fill="#2a2e39" stroke="#2a2e39" stroke-width="0.22" text-anchor="middle" font-weight="normal" dominant-baseline="central" >25</text>
<text x="862.95" y="455.3" font-size="6.8" fill="#2a2e39" stroke="#2a2e39" stroke-width="0.22" text-anchor="middle" font-weight="normal" dominant-baseline="central" >27</text>
<text x="920.08" y="455.3" font-size="6.8" fill="#2a2e39" stroke="#2a2e39" stroke-width="0.22" text-anchor="middle" font-weight="normal" dominant-baseline="central" >29</text>
<rect x="5.5" y="428.8" width="21.5" height="13" rx="3" fill="#fff" opacity="0.75"/>
<g fill="#131722"><path d="M7.9 430.9 H14.3 V439.5 H11.1 V434.4 H7.9 Z"/><circle cx="17.4" cy="432.6" r="1.5"/><path d="M20.4 430.9 H24.7 L21.8 439.5 H17.9 Z"/></g>
<g fill="none" stroke="#2a2e39" stroke-width="0.9"><path d="M1002.4 455.4 L1004.1 452.3 L1007.7 452.3 L1009.4 455.4 L1007.7 458.5 L1004.1 458.5 Z"/><circle cx="1005.9" cy="455.4" r="1.3"/></g>
</svg>
</body></html>
